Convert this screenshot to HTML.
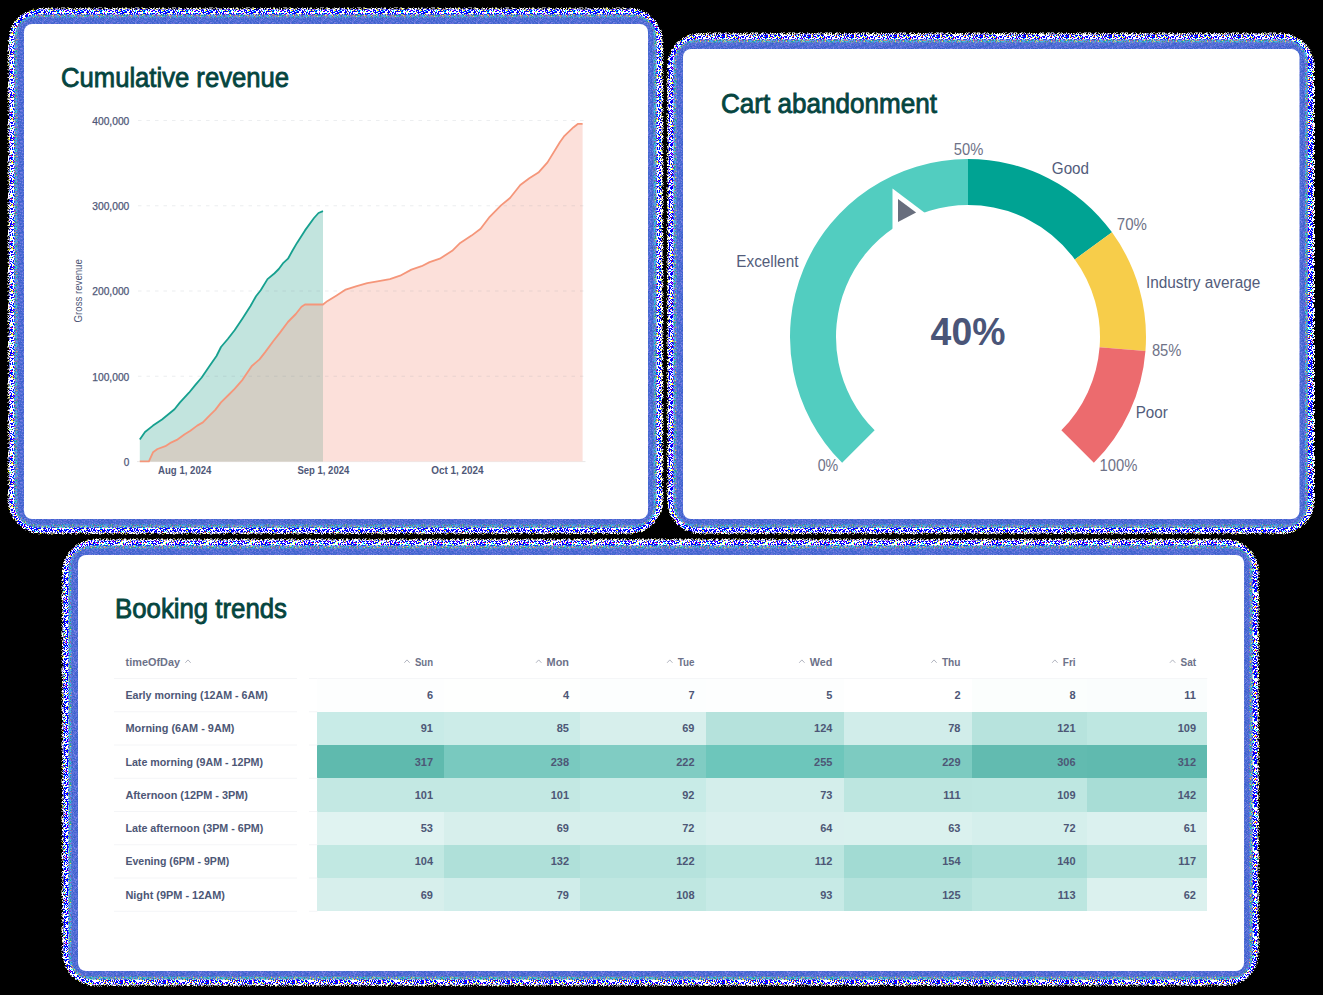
<!DOCTYPE html>
<html><head><meta charset="utf-8"><style>
html,body{margin:0;padding:0;background:#000;}
body{width:1323px;height:995px;overflow:hidden;}
svg{display:block;font-family:"Liberation Sans", sans-serif;}
</style></head><body>
<svg width="1323" height="995" viewBox="0 0 1323 995">
<defs><pattern id="pe" patternUnits="userSpaceOnUse" width="37" height="37"><path fill="#ffffff" d="M13 0h1v1h-1zM17 0h1v1h-1zM20 0h1v1h-1zM22 0h1v1h-1zM27 0h1v1h-1zM36 0h1v1h-1zM5 1h1v1h-1zM6 1h1v1h-1zM10 1h1v1h-1zM11 1h1v1h-1zM16 1h1v1h-1zM21 1h1v1h-1zM23 1h1v1h-1zM25 1h1v1h-1zM29 1h1v1h-1zM30 1h1v1h-1zM34 1h1v1h-1zM0 2h1v1h-1zM9 2h1v1h-1zM13 2h1v1h-1zM17 2h1v1h-1zM18 2h1v1h-1zM19 2h1v1h-1zM23 2h1v1h-1zM24 2h1v1h-1zM36 2h1v1h-1zM0 3h1v1h-1zM5 3h1v1h-1zM6 3h1v1h-1zM7 3h1v1h-1zM8 3h1v1h-1zM24 3h1v1h-1zM31 3h1v1h-1zM2 4h1v1h-1zM5 4h1v1h-1zM11 4h1v1h-1zM12 4h1v1h-1zM13 4h1v1h-1zM17 4h1v1h-1zM19 4h1v1h-1zM22 4h1v1h-1zM24 4h1v1h-1zM25 4h1v1h-1zM26 4h1v1h-1zM27 4h1v1h-1zM35 4h1v1h-1zM36 4h1v1h-1zM1 5h1v1h-1zM3 5h1v1h-1zM10 5h1v1h-1zM11 5h1v1h-1zM14 5h1v1h-1zM17 5h1v1h-1zM18 5h1v1h-1zM19 5h1v1h-1zM22 5h1v1h-1zM24 5h1v1h-1zM25 5h1v1h-1zM28 5h1v1h-1zM29 5h1v1h-1zM33 5h1v1h-1zM34 5h1v1h-1zM36 5h1v1h-1zM6 6h1v1h-1zM9 6h1v1h-1zM11 6h1v1h-1zM12 6h1v1h-1zM21 6h1v1h-1zM25 6h1v1h-1zM27 6h1v1h-1zM35 6h1v1h-1zM1 7h1v1h-1zM6 7h1v1h-1zM11 7h1v1h-1zM14 7h1v1h-1zM15 7h1v1h-1zM20 7h1v1h-1zM24 7h1v1h-1zM25 7h1v1h-1zM26 7h1v1h-1zM27 7h1v1h-1zM30 7h1v1h-1zM31 7h1v1h-1zM2 8h1v1h-1zM3 8h1v1h-1zM5 8h1v1h-1zM8 8h1v1h-1zM9 8h1v1h-1zM11 8h1v1h-1zM15 8h1v1h-1zM22 8h1v1h-1zM32 8h1v1h-1zM33 8h1v1h-1zM0 9h1v1h-1zM4 9h1v1h-1zM5 9h1v1h-1zM8 9h1v1h-1zM10 9h1v1h-1zM13 9h1v1h-1zM16 9h1v1h-1zM18 9h1v1h-1zM20 9h1v1h-1zM22 9h1v1h-1zM26 9h1v1h-1zM0 10h1v1h-1zM8 10h1v1h-1zM12 10h1v1h-1zM14 10h1v1h-1zM17 10h1v1h-1zM20 10h1v1h-1zM23 10h1v1h-1zM24 10h1v1h-1zM31 10h1v1h-1zM35 10h1v1h-1zM36 10h1v1h-1zM8 11h1v1h-1zM9 11h1v1h-1zM12 11h1v1h-1zM31 11h1v1h-1zM33 11h1v1h-1zM34 11h1v1h-1zM2 12h1v1h-1zM5 12h1v1h-1zM6 12h1v1h-1zM8 12h1v1h-1zM9 12h1v1h-1zM13 12h1v1h-1zM14 12h1v1h-1zM15 12h1v1h-1zM17 12h1v1h-1zM18 12h1v1h-1zM19 12h1v1h-1zM25 12h1v1h-1zM29 12h1v1h-1zM32 12h1v1h-1zM33 12h1v1h-1zM1 13h1v1h-1zM5 13h1v1h-1zM7 13h1v1h-1zM8 13h1v1h-1zM12 13h1v1h-1zM13 13h1v1h-1zM19 13h1v1h-1zM26 13h1v1h-1zM33 13h1v1h-1zM35 13h1v1h-1zM36 13h1v1h-1zM2 14h1v1h-1zM3 14h1v1h-1zM7 14h1v1h-1zM12 14h1v1h-1zM14 14h1v1h-1zM16 14h1v1h-1zM17 14h1v1h-1zM19 14h1v1h-1zM29 14h1v1h-1zM31 14h1v1h-1zM32 14h1v1h-1zM34 14h1v1h-1zM35 14h1v1h-1zM36 14h1v1h-1zM10 15h1v1h-1zM12 15h1v1h-1zM18 15h1v1h-1zM19 15h1v1h-1zM20 15h1v1h-1zM22 15h1v1h-1zM23 15h1v1h-1zM25 15h1v1h-1zM27 15h1v1h-1zM29 15h1v1h-1zM33 15h1v1h-1zM1 16h1v1h-1zM2 16h1v1h-1zM11 16h1v1h-1zM14 16h1v1h-1zM25 16h1v1h-1zM26 16h1v1h-1zM34 16h1v1h-1zM1 17h1v1h-1zM7 17h1v1h-1zM8 17h1v1h-1zM9 17h1v1h-1zM12 17h1v1h-1zM13 17h1v1h-1zM18 17h1v1h-1zM19 17h1v1h-1zM20 17h1v1h-1zM21 17h1v1h-1zM26 17h1v1h-1zM27 17h1v1h-1zM28 17h1v1h-1zM30 17h1v1h-1zM34 17h1v1h-1zM36 17h1v1h-1zM5 18h1v1h-1zM16 18h1v1h-1zM18 18h1v1h-1zM22 18h1v1h-1zM23 18h1v1h-1zM31 18h1v1h-1zM36 18h1v1h-1zM1 19h1v1h-1zM2 19h1v1h-1zM5 19h1v1h-1zM7 19h1v1h-1zM10 19h1v1h-1zM12 19h1v1h-1zM18 19h1v1h-1zM22 19h1v1h-1zM27 19h1v1h-1zM28 19h1v1h-1zM29 19h1v1h-1zM31 19h1v1h-1zM34 19h1v1h-1zM35 19h1v1h-1zM8 20h1v1h-1zM10 20h1v1h-1zM13 20h1v1h-1zM14 20h1v1h-1zM19 20h1v1h-1zM22 20h1v1h-1zM25 20h1v1h-1zM26 20h1v1h-1zM30 20h1v1h-1zM32 20h1v1h-1zM33 20h1v1h-1zM36 20h1v1h-1zM2 21h1v1h-1zM6 21h1v1h-1zM7 21h1v1h-1zM9 21h1v1h-1zM13 21h1v1h-1zM14 21h1v1h-1zM19 21h1v1h-1zM21 21h1v1h-1zM22 21h1v1h-1zM23 21h1v1h-1zM24 21h1v1h-1zM29 21h1v1h-1zM32 21h1v1h-1zM2 22h1v1h-1zM8 22h1v1h-1zM14 22h1v1h-1zM15 22h1v1h-1zM18 22h1v1h-1zM22 22h1v1h-1zM27 22h1v1h-1zM34 22h1v1h-1zM2 23h1v1h-1zM3 23h1v1h-1zM4 23h1v1h-1zM9 23h1v1h-1zM11 23h1v1h-1zM13 23h1v1h-1zM16 23h1v1h-1zM17 23h1v1h-1zM35 23h1v1h-1zM7 24h1v1h-1zM11 24h1v1h-1zM16 24h1v1h-1zM20 24h1v1h-1zM23 24h1v1h-1zM25 24h1v1h-1zM27 24h1v1h-1zM33 24h1v1h-1zM4 25h1v1h-1zM7 25h1v1h-1zM8 25h1v1h-1zM11 25h1v1h-1zM12 25h1v1h-1zM15 25h1v1h-1zM17 25h1v1h-1zM19 25h1v1h-1zM21 25h1v1h-1zM24 25h1v1h-1zM25 25h1v1h-1zM33 25h1v1h-1zM34 25h1v1h-1zM0 26h1v1h-1zM2 26h1v1h-1zM18 26h1v1h-1zM19 26h1v1h-1zM32 26h1v1h-1zM33 26h1v1h-1zM1 27h1v1h-1zM3 27h1v1h-1zM5 27h1v1h-1zM6 27h1v1h-1zM10 27h1v1h-1zM11 27h1v1h-1zM13 27h1v1h-1zM14 27h1v1h-1zM17 27h1v1h-1zM19 27h1v1h-1zM21 27h1v1h-1zM24 27h1v1h-1zM32 27h1v1h-1zM34 27h1v1h-1zM36 27h1v1h-1zM4 28h1v1h-1zM7 28h1v1h-1zM12 28h1v1h-1zM17 28h1v1h-1zM20 28h1v1h-1zM22 28h1v1h-1zM35 28h1v1h-1zM14 29h1v1h-1zM19 29h1v1h-1zM20 29h1v1h-1zM29 29h1v1h-1zM30 29h1v1h-1zM32 29h1v1h-1zM1 30h1v1h-1zM4 30h1v1h-1zM10 30h1v1h-1zM15 30h1v1h-1zM16 30h1v1h-1zM17 30h1v1h-1zM19 30h1v1h-1zM20 30h1v1h-1zM22 30h1v1h-1zM29 30h1v1h-1zM30 30h1v1h-1zM31 30h1v1h-1zM32 30h1v1h-1zM36 30h1v1h-1zM3 31h1v1h-1zM5 31h1v1h-1zM9 31h1v1h-1zM10 31h1v1h-1zM11 31h1v1h-1zM13 31h1v1h-1zM16 31h1v1h-1zM18 31h1v1h-1zM20 31h1v1h-1zM22 31h1v1h-1zM23 31h1v1h-1zM24 31h1v1h-1zM26 31h1v1h-1zM32 31h1v1h-1zM36 31h1v1h-1zM4 32h1v1h-1zM6 32h1v1h-1zM7 32h1v1h-1zM11 32h1v1h-1zM12 32h1v1h-1zM13 32h1v1h-1zM15 32h1v1h-1zM16 32h1v1h-1zM17 32h1v1h-1zM22 32h1v1h-1zM23 32h1v1h-1zM25 32h1v1h-1zM30 32h1v1h-1zM0 33h1v1h-1zM3 33h1v1h-1zM5 33h1v1h-1zM10 33h1v1h-1zM12 33h1v1h-1zM15 33h1v1h-1zM17 33h1v1h-1zM21 33h1v1h-1zM22 33h1v1h-1zM26 33h1v1h-1zM30 33h1v1h-1zM32 33h1v1h-1zM35 33h1v1h-1zM3 34h1v1h-1zM4 34h1v1h-1zM5 34h1v1h-1zM10 34h1v1h-1zM12 34h1v1h-1zM16 34h1v1h-1zM19 34h1v1h-1zM23 34h1v1h-1zM24 34h1v1h-1zM29 34h1v1h-1zM31 34h1v1h-1zM34 34h1v1h-1zM1 35h1v1h-1zM5 35h1v1h-1zM6 35h1v1h-1zM15 35h1v1h-1zM16 35h1v1h-1zM18 35h1v1h-1zM22 35h1v1h-1zM23 35h1v1h-1zM32 35h1v1h-1zM33 35h1v1h-1zM3 36h1v1h-1zM4 36h1v1h-1zM7 36h1v1h-1zM10 36h1v1h-1zM11 36h1v1h-1zM12 36h1v1h-1zM13 36h1v1h-1zM14 36h1v1h-1zM22 36h1v1h-1zM23 36h1v1h-1zM31 36h1v1h-1zM34 36h1v1h-1z"/><path fill="#ffff00" d="M13 1h1v1h-1zM36 1h1v1h-1zM32 3h1v1h-1zM23 4h1v1h-1zM2 5h1v1h-1zM0 6h1v1h-1zM14 8h1v1h-1zM31 8h1v1h-1zM21 10h1v1h-1zM0 12h1v1h-1zM3 15h1v1h-1zM15 16h1v1h-1zM30 19h1v1h-1zM1 22h1v1h-1zM3 22h1v1h-1zM31 22h1v1h-1zM36 22h1v1h-1zM17 24h1v1h-1zM4 27h1v1h-1zM8 27h1v1h-1zM9 28h1v1h-1zM14 28h1v1h-1zM25 28h1v1h-1zM21 35h1v1h-1z"/></pattern><pattern id="pf" patternUnits="userSpaceOnUse" width="41" height="41"><path fill="#ffffff" d="M2 0h1v1h-1zM4 0h1v1h-1zM6 0h1v1h-1zM8 0h1v1h-1zM9 0h1v1h-1zM10 0h1v1h-1zM11 0h1v1h-1zM12 0h1v1h-1zM13 0h1v1h-1zM14 0h1v1h-1zM15 0h1v1h-1zM18 0h1v1h-1zM20 0h1v1h-1zM28 0h1v1h-1zM29 0h1v1h-1zM30 0h1v1h-1zM34 0h1v1h-1zM36 0h1v1h-1zM38 0h1v1h-1zM1 1h1v1h-1zM2 1h1v1h-1zM3 1h1v1h-1zM4 1h1v1h-1zM5 1h1v1h-1zM9 1h1v1h-1zM10 1h1v1h-1zM11 1h1v1h-1zM12 1h1v1h-1zM14 1h1v1h-1zM16 1h1v1h-1zM18 1h1v1h-1zM22 1h1v1h-1zM25 1h1v1h-1zM29 1h1v1h-1zM30 1h1v1h-1zM31 1h1v1h-1zM32 1h1v1h-1zM35 1h1v1h-1zM37 1h1v1h-1zM39 1h1v1h-1zM0 2h1v1h-1zM1 2h1v1h-1zM5 2h1v1h-1zM10 2h1v1h-1zM14 2h1v1h-1zM17 2h1v1h-1zM18 2h1v1h-1zM19 2h1v1h-1zM21 2h1v1h-1zM22 2h1v1h-1zM24 2h1v1h-1zM25 2h1v1h-1zM26 2h1v1h-1zM27 2h1v1h-1zM29 2h1v1h-1zM33 2h1v1h-1zM35 2h1v1h-1zM37 2h1v1h-1zM38 2h1v1h-1zM39 2h1v1h-1zM40 2h1v1h-1zM1 3h1v1h-1zM2 3h1v1h-1zM3 3h1v1h-1zM4 3h1v1h-1zM5 3h1v1h-1zM7 3h1v1h-1zM10 3h1v1h-1zM11 3h1v1h-1zM13 3h1v1h-1zM14 3h1v1h-1zM18 3h1v1h-1zM19 3h1v1h-1zM22 3h1v1h-1zM23 3h1v1h-1zM25 3h1v1h-1zM27 3h1v1h-1zM28 3h1v1h-1zM29 3h1v1h-1zM31 3h1v1h-1zM32 3h1v1h-1zM33 3h1v1h-1zM34 3h1v1h-1zM36 3h1v1h-1zM37 3h1v1h-1zM38 3h1v1h-1zM40 3h1v1h-1zM1 4h1v1h-1zM2 4h1v1h-1zM6 4h1v1h-1zM7 4h1v1h-1zM8 4h1v1h-1zM10 4h1v1h-1zM12 4h1v1h-1zM18 4h1v1h-1zM19 4h1v1h-1zM20 4h1v1h-1zM22 4h1v1h-1zM23 4h1v1h-1zM24 4h1v1h-1zM25 4h1v1h-1zM26 4h1v1h-1zM27 4h1v1h-1zM29 4h1v1h-1zM30 4h1v1h-1zM31 4h1v1h-1zM35 4h1v1h-1zM37 4h1v1h-1zM39 4h1v1h-1zM40 4h1v1h-1zM0 5h1v1h-1zM3 5h1v1h-1zM5 5h1v1h-1zM6 5h1v1h-1zM9 5h1v1h-1zM12 5h1v1h-1zM13 5h1v1h-1zM15 5h1v1h-1zM18 5h1v1h-1zM21 5h1v1h-1zM22 5h1v1h-1zM24 5h1v1h-1zM29 5h1v1h-1zM33 5h1v1h-1zM36 5h1v1h-1zM38 5h1v1h-1zM0 6h1v1h-1zM1 6h1v1h-1zM2 6h1v1h-1zM3 6h1v1h-1zM5 6h1v1h-1zM6 6h1v1h-1zM7 6h1v1h-1zM11 6h1v1h-1zM14 6h1v1h-1zM15 6h1v1h-1zM18 6h1v1h-1zM20 6h1v1h-1zM21 6h1v1h-1zM24 6h1v1h-1zM25 6h1v1h-1zM26 6h1v1h-1zM28 6h1v1h-1zM30 6h1v1h-1zM31 6h1v1h-1zM32 6h1v1h-1zM34 6h1v1h-1zM36 6h1v1h-1zM37 6h1v1h-1zM0 7h1v1h-1zM1 7h1v1h-1zM3 7h1v1h-1zM5 7h1v1h-1zM6 7h1v1h-1zM8 7h1v1h-1zM11 7h1v1h-1zM12 7h1v1h-1zM14 7h1v1h-1zM18 7h1v1h-1zM19 7h1v1h-1zM20 7h1v1h-1zM23 7h1v1h-1zM24 7h1v1h-1zM25 7h1v1h-1zM26 7h1v1h-1zM28 7h1v1h-1zM29 7h1v1h-1zM30 7h1v1h-1zM34 7h1v1h-1zM35 7h1v1h-1zM37 7h1v1h-1zM40 7h1v1h-1zM0 8h1v1h-1zM1 8h1v1h-1zM4 8h1v1h-1zM5 8h1v1h-1zM6 8h1v1h-1zM8 8h1v1h-1zM9 8h1v1h-1zM11 8h1v1h-1zM14 8h1v1h-1zM15 8h1v1h-1zM16 8h1v1h-1zM20 8h1v1h-1zM22 8h1v1h-1zM23 8h1v1h-1zM24 8h1v1h-1zM30 8h1v1h-1zM31 8h1v1h-1zM33 8h1v1h-1zM35 8h1v1h-1zM39 8h1v1h-1zM40 8h1v1h-1zM0 9h1v1h-1zM2 9h1v1h-1zM3 9h1v1h-1zM5 9h1v1h-1zM6 9h1v1h-1zM14 9h1v1h-1zM15 9h1v1h-1zM16 9h1v1h-1zM20 9h1v1h-1zM25 9h1v1h-1zM26 9h1v1h-1zM28 9h1v1h-1zM30 9h1v1h-1zM40 9h1v1h-1zM1 10h1v1h-1zM2 10h1v1h-1zM3 10h1v1h-1zM7 10h1v1h-1zM9 10h1v1h-1zM11 10h1v1h-1zM12 10h1v1h-1zM17 10h1v1h-1zM21 10h1v1h-1zM23 10h1v1h-1zM29 10h1v1h-1zM32 10h1v1h-1zM35 10h1v1h-1zM36 10h1v1h-1zM37 10h1v1h-1zM39 10h1v1h-1zM40 10h1v1h-1zM0 11h1v1h-1zM4 11h1v1h-1zM5 11h1v1h-1zM7 11h1v1h-1zM9 11h1v1h-1zM12 11h1v1h-1zM15 11h1v1h-1zM22 11h1v1h-1zM24 11h1v1h-1zM36 11h1v1h-1zM40 11h1v1h-1zM3 12h1v1h-1zM4 12h1v1h-1zM6 12h1v1h-1zM9 12h1v1h-1zM12 12h1v1h-1zM13 12h1v1h-1zM17 12h1v1h-1zM18 12h1v1h-1zM21 12h1v1h-1zM22 12h1v1h-1zM23 12h1v1h-1zM24 12h1v1h-1zM27 12h1v1h-1zM28 12h1v1h-1zM29 12h1v1h-1zM31 12h1v1h-1zM33 12h1v1h-1zM34 12h1v1h-1zM35 12h1v1h-1zM38 12h1v1h-1zM39 12h1v1h-1zM1 13h1v1h-1zM5 13h1v1h-1zM7 13h1v1h-1zM8 13h1v1h-1zM9 13h1v1h-1zM11 13h1v1h-1zM12 13h1v1h-1zM13 13h1v1h-1zM15 13h1v1h-1zM17 13h1v1h-1zM19 13h1v1h-1zM21 13h1v1h-1zM22 13h1v1h-1zM23 13h1v1h-1zM24 13h1v1h-1zM31 13h1v1h-1zM34 13h1v1h-1zM37 13h1v1h-1zM38 13h1v1h-1zM39 13h1v1h-1zM40 13h1v1h-1zM1 14h1v1h-1zM2 14h1v1h-1zM5 14h1v1h-1zM6 14h1v1h-1zM9 14h1v1h-1zM11 14h1v1h-1zM12 14h1v1h-1zM14 14h1v1h-1zM15 14h1v1h-1zM17 14h1v1h-1zM20 14h1v1h-1zM21 14h1v1h-1zM22 14h1v1h-1zM25 14h1v1h-1zM29 14h1v1h-1zM31 14h1v1h-1zM33 14h1v1h-1zM34 14h1v1h-1zM36 14h1v1h-1zM40 14h1v1h-1zM0 15h1v1h-1zM2 15h1v1h-1zM4 15h1v1h-1zM5 15h1v1h-1zM9 15h1v1h-1zM11 15h1v1h-1zM12 15h1v1h-1zM16 15h1v1h-1zM18 15h1v1h-1zM20 15h1v1h-1zM22 15h1v1h-1zM24 15h1v1h-1zM25 15h1v1h-1zM29 15h1v1h-1zM31 15h1v1h-1zM33 15h1v1h-1zM35 15h1v1h-1zM36 15h1v1h-1zM0 16h1v1h-1zM4 16h1v1h-1zM5 16h1v1h-1zM6 16h1v1h-1zM7 16h1v1h-1zM8 16h1v1h-1zM10 16h1v1h-1zM11 16h1v1h-1zM12 16h1v1h-1zM13 16h1v1h-1zM14 16h1v1h-1zM18 16h1v1h-1zM20 16h1v1h-1zM23 16h1v1h-1zM25 16h1v1h-1zM26 16h1v1h-1zM30 16h1v1h-1zM33 16h1v1h-1zM34 16h1v1h-1zM37 16h1v1h-1zM38 16h1v1h-1zM1 17h1v1h-1zM5 17h1v1h-1zM6 17h1v1h-1zM7 17h1v1h-1zM8 17h1v1h-1zM9 17h1v1h-1zM10 17h1v1h-1zM11 17h1v1h-1zM12 17h1v1h-1zM13 17h1v1h-1zM14 17h1v1h-1zM15 17h1v1h-1zM18 17h1v1h-1zM20 17h1v1h-1zM21 17h1v1h-1zM22 17h1v1h-1zM24 17h1v1h-1zM25 17h1v1h-1zM26 17h1v1h-1zM27 17h1v1h-1zM28 17h1v1h-1zM30 17h1v1h-1zM31 17h1v1h-1zM32 17h1v1h-1zM35 17h1v1h-1zM38 17h1v1h-1zM39 17h1v1h-1zM40 17h1v1h-1zM0 18h1v1h-1zM4 18h1v1h-1zM5 18h1v1h-1zM9 18h1v1h-1zM10 18h1v1h-1zM13 18h1v1h-1zM17 18h1v1h-1zM18 18h1v1h-1zM20 18h1v1h-1zM21 18h1v1h-1zM23 18h1v1h-1zM24 18h1v1h-1zM25 18h1v1h-1zM28 18h1v1h-1zM31 18h1v1h-1zM32 18h1v1h-1zM35 18h1v1h-1zM36 18h1v1h-1zM37 18h1v1h-1zM38 18h1v1h-1zM40 18h1v1h-1zM0 19h1v1h-1zM1 19h1v1h-1zM4 19h1v1h-1zM5 19h1v1h-1zM9 19h1v1h-1zM10 19h1v1h-1zM13 19h1v1h-1zM14 19h1v1h-1zM17 19h1v1h-1zM20 19h1v1h-1zM21 19h1v1h-1zM24 19h1v1h-1zM25 19h1v1h-1zM28 19h1v1h-1zM30 19h1v1h-1zM31 19h1v1h-1zM33 19h1v1h-1zM36 19h1v1h-1zM37 19h1v1h-1zM38 19h1v1h-1zM40 19h1v1h-1zM0 20h1v1h-1zM2 20h1v1h-1zM3 20h1v1h-1zM5 20h1v1h-1zM6 20h1v1h-1zM9 20h1v1h-1zM13 20h1v1h-1zM14 20h1v1h-1zM15 20h1v1h-1zM16 20h1v1h-1zM19 20h1v1h-1zM21 20h1v1h-1zM27 20h1v1h-1zM29 20h1v1h-1zM33 20h1v1h-1zM35 20h1v1h-1zM36 20h1v1h-1zM40 20h1v1h-1zM2 21h1v1h-1zM4 21h1v1h-1zM6 21h1v1h-1zM10 21h1v1h-1zM13 21h1v1h-1zM14 21h1v1h-1zM15 21h1v1h-1zM22 21h1v1h-1zM24 21h1v1h-1zM26 21h1v1h-1zM29 21h1v1h-1zM36 21h1v1h-1zM39 21h1v1h-1zM1 22h1v1h-1zM3 22h1v1h-1zM4 22h1v1h-1zM5 22h1v1h-1zM8 22h1v1h-1zM13 22h1v1h-1zM15 22h1v1h-1zM17 22h1v1h-1zM20 22h1v1h-1zM23 22h1v1h-1zM25 22h1v1h-1zM27 22h1v1h-1zM28 22h1v1h-1zM30 22h1v1h-1zM32 22h1v1h-1zM33 22h1v1h-1zM38 22h1v1h-1zM40 22h1v1h-1zM1 23h1v1h-1zM3 23h1v1h-1zM9 23h1v1h-1zM11 23h1v1h-1zM13 23h1v1h-1zM15 23h1v1h-1zM19 23h1v1h-1zM20 23h1v1h-1zM22 23h1v1h-1zM23 23h1v1h-1zM24 23h1v1h-1zM26 23h1v1h-1zM28 23h1v1h-1zM32 23h1v1h-1zM33 23h1v1h-1zM1 24h1v1h-1zM3 24h1v1h-1zM4 24h1v1h-1zM5 24h1v1h-1zM7 24h1v1h-1zM8 24h1v1h-1zM11 24h1v1h-1zM12 24h1v1h-1zM15 24h1v1h-1zM16 24h1v1h-1zM20 24h1v1h-1zM23 24h1v1h-1zM25 24h1v1h-1zM27 24h1v1h-1zM28 24h1v1h-1zM32 24h1v1h-1zM34 24h1v1h-1zM35 24h1v1h-1zM36 24h1v1h-1zM37 24h1v1h-1zM38 24h1v1h-1zM40 24h1v1h-1zM0 25h1v1h-1zM1 25h1v1h-1zM4 25h1v1h-1zM6 25h1v1h-1zM7 25h1v1h-1zM9 25h1v1h-1zM11 25h1v1h-1zM12 25h1v1h-1zM16 25h1v1h-1zM20 25h1v1h-1zM21 25h1v1h-1zM24 25h1v1h-1zM25 25h1v1h-1zM31 25h1v1h-1zM33 25h1v1h-1zM34 25h1v1h-1zM35 25h1v1h-1zM37 25h1v1h-1zM38 25h1v1h-1zM39 25h1v1h-1zM40 25h1v1h-1zM0 26h1v1h-1zM8 26h1v1h-1zM9 26h1v1h-1zM12 26h1v1h-1zM18 26h1v1h-1zM20 26h1v1h-1zM22 26h1v1h-1zM24 26h1v1h-1zM25 26h1v1h-1zM27 26h1v1h-1zM30 26h1v1h-1zM31 26h1v1h-1zM33 26h1v1h-1zM38 26h1v1h-1zM39 26h1v1h-1zM1 27h1v1h-1zM2 27h1v1h-1zM5 27h1v1h-1zM6 27h1v1h-1zM7 27h1v1h-1zM10 27h1v1h-1zM13 27h1v1h-1zM15 27h1v1h-1zM18 27h1v1h-1zM19 27h1v1h-1zM20 27h1v1h-1zM21 27h1v1h-1zM24 27h1v1h-1zM25 27h1v1h-1zM28 27h1v1h-1zM30 27h1v1h-1zM32 27h1v1h-1zM36 27h1v1h-1zM38 27h1v1h-1zM40 27h1v1h-1zM0 28h1v1h-1zM1 28h1v1h-1zM2 28h1v1h-1zM4 28h1v1h-1zM5 28h1v1h-1zM6 28h1v1h-1zM8 28h1v1h-1zM9 28h1v1h-1zM10 28h1v1h-1zM14 28h1v1h-1zM15 28h1v1h-1zM20 28h1v1h-1zM23 28h1v1h-1zM26 28h1v1h-1zM27 28h1v1h-1zM29 28h1v1h-1zM30 28h1v1h-1zM32 28h1v1h-1zM34 28h1v1h-1zM35 28h1v1h-1zM0 29h1v1h-1zM1 29h1v1h-1zM3 29h1v1h-1zM5 29h1v1h-1zM6 29h1v1h-1zM7 29h1v1h-1zM8 29h1v1h-1zM13 29h1v1h-1zM15 29h1v1h-1zM18 29h1v1h-1zM20 29h1v1h-1zM21 29h1v1h-1zM23 29h1v1h-1zM25 29h1v1h-1zM26 29h1v1h-1zM28 29h1v1h-1zM30 29h1v1h-1zM31 29h1v1h-1zM32 29h1v1h-1zM33 29h1v1h-1zM34 29h1v1h-1zM37 29h1v1h-1zM39 29h1v1h-1zM2 30h1v1h-1zM3 30h1v1h-1zM5 30h1v1h-1zM10 30h1v1h-1zM13 30h1v1h-1zM14 30h1v1h-1zM16 30h1v1h-1zM17 30h1v1h-1zM18 30h1v1h-1zM20 30h1v1h-1zM22 30h1v1h-1zM24 30h1v1h-1zM25 30h1v1h-1zM26 30h1v1h-1zM29 30h1v1h-1zM31 30h1v1h-1zM33 30h1v1h-1zM35 30h1v1h-1zM36 30h1v1h-1zM39 30h1v1h-1zM1 31h1v1h-1zM2 31h1v1h-1zM3 31h1v1h-1zM7 31h1v1h-1zM9 31h1v1h-1zM11 31h1v1h-1zM14 31h1v1h-1zM15 31h1v1h-1zM16 31h1v1h-1zM17 31h1v1h-1zM22 31h1v1h-1zM23 31h1v1h-1zM24 31h1v1h-1zM27 31h1v1h-1zM28 31h1v1h-1zM30 31h1v1h-1zM32 31h1v1h-1zM34 31h1v1h-1zM35 31h1v1h-1zM40 31h1v1h-1zM3 32h1v1h-1zM4 32h1v1h-1zM8 32h1v1h-1zM11 32h1v1h-1zM15 32h1v1h-1zM18 32h1v1h-1zM20 32h1v1h-1zM21 32h1v1h-1zM25 32h1v1h-1zM26 32h1v1h-1zM27 32h1v1h-1zM28 32h1v1h-1zM29 32h1v1h-1zM30 32h1v1h-1zM33 32h1v1h-1zM34 32h1v1h-1zM36 32h1v1h-1zM38 32h1v1h-1zM39 32h1v1h-1zM40 32h1v1h-1zM0 33h1v1h-1zM2 33h1v1h-1zM3 33h1v1h-1zM8 33h1v1h-1zM15 33h1v1h-1zM16 33h1v1h-1zM17 33h1v1h-1zM18 33h1v1h-1zM24 33h1v1h-1zM25 33h1v1h-1zM29 33h1v1h-1zM32 33h1v1h-1zM35 33h1v1h-1zM36 33h1v1h-1zM37 33h1v1h-1zM39 33h1v1h-1zM5 34h1v1h-1zM9 34h1v1h-1zM10 34h1v1h-1zM11 34h1v1h-1zM13 34h1v1h-1zM15 34h1v1h-1zM17 34h1v1h-1zM18 34h1v1h-1zM22 34h1v1h-1zM23 34h1v1h-1zM24 34h1v1h-1zM28 34h1v1h-1zM29 34h1v1h-1zM30 34h1v1h-1zM31 34h1v1h-1zM34 34h1v1h-1zM36 34h1v1h-1zM38 34h1v1h-1zM39 34h1v1h-1zM0 35h1v1h-1zM3 35h1v1h-1zM6 35h1v1h-1zM7 35h1v1h-1zM12 35h1v1h-1zM14 35h1v1h-1zM15 35h1v1h-1zM16 35h1v1h-1zM17 35h1v1h-1zM18 35h1v1h-1zM19 35h1v1h-1zM20 35h1v1h-1zM22 35h1v1h-1zM24 35h1v1h-1zM25 35h1v1h-1zM26 35h1v1h-1zM28 35h1v1h-1zM30 35h1v1h-1zM32 35h1v1h-1zM36 35h1v1h-1zM37 35h1v1h-1zM38 35h1v1h-1zM1 36h1v1h-1zM6 36h1v1h-1zM7 36h1v1h-1zM13 36h1v1h-1zM17 36h1v1h-1zM20 36h1v1h-1zM21 36h1v1h-1zM23 36h1v1h-1zM24 36h1v1h-1zM28 36h1v1h-1zM30 36h1v1h-1zM31 36h1v1h-1zM32 36h1v1h-1zM34 36h1v1h-1zM35 36h1v1h-1zM38 36h1v1h-1zM1 37h1v1h-1zM4 37h1v1h-1zM5 37h1v1h-1zM9 37h1v1h-1zM11 37h1v1h-1zM12 37h1v1h-1zM14 37h1v1h-1zM15 37h1v1h-1zM18 37h1v1h-1zM21 37h1v1h-1zM22 37h1v1h-1zM23 37h1v1h-1zM24 37h1v1h-1zM29 37h1v1h-1zM30 37h1v1h-1zM32 37h1v1h-1zM0 38h1v1h-1zM3 38h1v1h-1zM7 38h1v1h-1zM12 38h1v1h-1zM13 38h1v1h-1zM15 38h1v1h-1zM17 38h1v1h-1zM22 38h1v1h-1zM24 38h1v1h-1zM26 38h1v1h-1zM28 38h1v1h-1zM30 38h1v1h-1zM31 38h1v1h-1zM34 38h1v1h-1zM40 38h1v1h-1zM5 39h1v1h-1zM6 39h1v1h-1zM7 39h1v1h-1zM10 39h1v1h-1zM11 39h1v1h-1zM12 39h1v1h-1zM13 39h1v1h-1zM14 39h1v1h-1zM16 39h1v1h-1zM17 39h1v1h-1zM20 39h1v1h-1zM24 39h1v1h-1zM28 39h1v1h-1zM31 39h1v1h-1zM36 39h1v1h-1zM37 39h1v1h-1zM40 39h1v1h-1zM1 40h1v1h-1zM2 40h1v1h-1zM6 40h1v1h-1zM7 40h1v1h-1zM8 40h1v1h-1zM9 40h1v1h-1zM12 40h1v1h-1zM13 40h1v1h-1zM15 40h1v1h-1zM17 40h1v1h-1zM18 40h1v1h-1zM19 40h1v1h-1zM21 40h1v1h-1zM22 40h1v1h-1zM24 40h1v1h-1zM27 40h1v1h-1zM28 40h1v1h-1zM29 40h1v1h-1zM30 40h1v1h-1zM34 40h1v1h-1zM35 40h1v1h-1zM36 40h1v1h-1zM37 40h1v1h-1zM40 40h1v1h-1z"/><path fill="#0000ff" d="M5 0h1v1h-1zM16 0h1v1h-1zM35 0h1v1h-1zM34 1h1v1h-1zM38 1h1v1h-1zM4 2h1v1h-1zM13 2h1v1h-1zM16 2h1v1h-1zM20 2h1v1h-1zM28 2h1v1h-1zM15 3h1v1h-1zM20 3h1v1h-1zM11 4h1v1h-1zM17 4h1v1h-1zM21 4h1v1h-1zM36 4h1v1h-1zM7 5h1v1h-1zM14 5h1v1h-1zM19 5h1v1h-1zM8 6h1v1h-1zM35 6h1v1h-1zM9 7h1v1h-1zM13 7h1v1h-1zM21 7h1v1h-1zM31 7h1v1h-1zM38 7h1v1h-1zM12 8h1v1h-1zM13 8h1v1h-1zM4 9h1v1h-1zM17 9h1v1h-1zM18 9h1v1h-1zM23 9h1v1h-1zM27 9h1v1h-1zM38 9h1v1h-1zM39 9h1v1h-1zM8 10h1v1h-1zM26 10h1v1h-1zM28 10h1v1h-1zM30 10h1v1h-1zM34 10h1v1h-1zM17 11h1v1h-1zM21 11h1v1h-1zM31 11h1v1h-1zM34 11h1v1h-1zM7 12h1v1h-1zM37 12h1v1h-1zM20 13h1v1h-1zM18 14h1v1h-1zM24 14h1v1h-1zM32 14h1v1h-1zM37 14h1v1h-1zM38 14h1v1h-1zM10 15h1v1h-1zM13 15h1v1h-1zM14 15h1v1h-1zM21 15h1v1h-1zM26 15h1v1h-1zM32 15h1v1h-1zM0 17h1v1h-1zM16 17h1v1h-1zM7 18h1v1h-1zM11 18h1v1h-1zM14 18h1v1h-1zM19 18h1v1h-1zM30 18h1v1h-1zM12 19h1v1h-1zM16 19h1v1h-1zM26 20h1v1h-1zM32 20h1v1h-1zM34 20h1v1h-1zM39 20h1v1h-1zM1 21h1v1h-1zM7 21h1v1h-1zM10 22h1v1h-1zM12 22h1v1h-1zM19 22h1v1h-1zM12 23h1v1h-1zM14 23h1v1h-1zM31 23h1v1h-1zM22 24h1v1h-1zM31 24h1v1h-1zM33 24h1v1h-1zM2 25h1v1h-1zM26 25h1v1h-1zM29 25h1v1h-1zM29 26h1v1h-1zM32 26h1v1h-1zM3 27h1v1h-1zM22 27h1v1h-1zM23 27h1v1h-1zM11 28h1v1h-1zM22 28h1v1h-1zM33 28h1v1h-1zM38 28h1v1h-1zM12 29h1v1h-1zM15 30h1v1h-1zM19 30h1v1h-1zM30 30h1v1h-1zM38 30h1v1h-1zM18 31h1v1h-1zM39 31h1v1h-1zM22 32h1v1h-1zM35 32h1v1h-1zM26 33h1v1h-1zM28 33h1v1h-1zM40 33h1v1h-1zM25 34h1v1h-1zM2 35h1v1h-1zM33 35h1v1h-1zM9 36h1v1h-1zM14 36h1v1h-1zM26 36h1v1h-1zM36 36h1v1h-1zM37 36h1v1h-1zM19 37h1v1h-1zM25 37h1v1h-1zM27 37h1v1h-1zM39 37h1v1h-1zM6 38h1v1h-1zM8 38h1v1h-1zM35 38h1v1h-1zM39 38h1v1h-1zM29 39h1v1h-1zM38 39h1v1h-1zM26 40h1v1h-1zM33 40h1v1h-1z"/><path fill="#ffff00" d="M0 0h1v1h-1zM22 0h1v1h-1zM7 1h1v1h-1zM8 3h1v1h-1zM17 3h1v1h-1zM0 4h1v1h-1zM20 5h1v1h-1zM31 5h1v1h-1zM10 6h1v1h-1zM40 6h1v1h-1zM4 7h1v1h-1zM27 8h1v1h-1zM38 8h1v1h-1zM7 9h1v1h-1zM32 9h1v1h-1zM33 9h1v1h-1zM4 10h1v1h-1zM19 11h1v1h-1zM29 11h1v1h-1zM30 11h1v1h-1zM38 11h1v1h-1zM26 13h1v1h-1zM30 14h1v1h-1zM8 15h1v1h-1zM28 16h1v1h-1zM23 17h1v1h-1zM22 18h1v1h-1zM39 18h1v1h-1zM2 19h1v1h-1zM8 19h1v1h-1zM15 19h1v1h-1zM27 19h1v1h-1zM4 20h1v1h-1zM5 21h1v1h-1zM20 21h1v1h-1zM10 25h1v1h-1zM17 26h1v1h-1zM21 26h1v1h-1zM33 27h1v1h-1zM21 28h1v1h-1zM24 28h1v1h-1zM25 28h1v1h-1zM36 29h1v1h-1zM1 30h1v1h-1zM12 32h1v1h-1zM23 32h1v1h-1zM7 33h1v1h-1zM33 33h1v1h-1zM14 34h1v1h-1zM4 35h1v1h-1zM29 35h1v1h-1zM40 35h1v1h-1zM19 36h1v1h-1zM7 37h1v1h-1zM33 37h1v1h-1zM37 37h1v1h-1zM9 38h1v1h-1zM20 38h1v1h-1zM38 38h1v1h-1zM15 39h1v1h-1zM21 39h1v1h-1zM26 39h1v1h-1zM4 40h1v1h-1zM10 40h1v1h-1z"/></pattern><pattern id="pn" patternUnits="userSpaceOnUse" width="43" height="43"><path fill="#ffffff" d="M5 0h1v1h-1zM6 0h1v1h-1zM9 0h1v1h-1zM10 0h1v1h-1zM11 0h1v1h-1zM12 0h1v1h-1zM13 0h1v1h-1zM17 0h1v1h-1zM18 0h1v1h-1zM25 0h1v1h-1zM27 0h1v1h-1zM29 0h1v1h-1zM30 0h1v1h-1zM31 0h1v1h-1zM32 0h1v1h-1zM33 0h1v1h-1zM34 0h1v1h-1zM36 0h1v1h-1zM37 0h1v1h-1zM39 0h1v1h-1zM40 0h1v1h-1zM41 0h1v1h-1zM0 1h1v1h-1zM3 1h1v1h-1zM4 1h1v1h-1zM7 1h1v1h-1zM8 1h1v1h-1zM10 1h1v1h-1zM12 1h1v1h-1zM13 1h1v1h-1zM16 1h1v1h-1zM17 1h1v1h-1zM20 1h1v1h-1zM23 1h1v1h-1zM25 1h1v1h-1zM26 1h1v1h-1zM28 1h1v1h-1zM33 1h1v1h-1zM38 1h1v1h-1zM41 1h1v1h-1zM4 2h1v1h-1zM5 2h1v1h-1zM10 2h1v1h-1zM11 2h1v1h-1zM12 2h1v1h-1zM14 2h1v1h-1zM15 2h1v1h-1zM18 2h1v1h-1zM22 2h1v1h-1zM24 2h1v1h-1zM29 2h1v1h-1zM30 2h1v1h-1zM32 2h1v1h-1zM34 2h1v1h-1zM35 2h1v1h-1zM36 2h1v1h-1zM37 2h1v1h-1zM41 2h1v1h-1zM42 2h1v1h-1zM0 3h1v1h-1zM4 3h1v1h-1zM5 3h1v1h-1zM6 3h1v1h-1zM8 3h1v1h-1zM12 3h1v1h-1zM14 3h1v1h-1zM17 3h1v1h-1zM18 3h1v1h-1zM20 3h1v1h-1zM22 3h1v1h-1zM23 3h1v1h-1zM25 3h1v1h-1zM33 3h1v1h-1zM34 3h1v1h-1zM36 3h1v1h-1zM38 3h1v1h-1zM40 3h1v1h-1zM4 4h1v1h-1zM5 4h1v1h-1zM7 4h1v1h-1zM9 4h1v1h-1zM10 4h1v1h-1zM11 4h1v1h-1zM14 4h1v1h-1zM16 4h1v1h-1zM19 4h1v1h-1zM20 4h1v1h-1zM22 4h1v1h-1zM24 4h1v1h-1zM25 4h1v1h-1zM27 4h1v1h-1zM29 4h1v1h-1zM31 4h1v1h-1zM33 4h1v1h-1zM36 4h1v1h-1zM37 4h1v1h-1zM38 4h1v1h-1zM40 4h1v1h-1zM42 4h1v1h-1zM2 5h1v1h-1zM4 5h1v1h-1zM6 5h1v1h-1zM11 5h1v1h-1zM12 5h1v1h-1zM16 5h1v1h-1zM21 5h1v1h-1zM22 5h1v1h-1zM23 5h1v1h-1zM26 5h1v1h-1zM28 5h1v1h-1zM31 5h1v1h-1zM34 5h1v1h-1zM35 5h1v1h-1zM37 5h1v1h-1zM39 5h1v1h-1zM41 5h1v1h-1zM42 5h1v1h-1zM1 6h1v1h-1zM6 6h1v1h-1zM8 6h1v1h-1zM10 6h1v1h-1zM12 6h1v1h-1zM13 6h1v1h-1zM15 6h1v1h-1zM16 6h1v1h-1zM18 6h1v1h-1zM22 6h1v1h-1zM23 6h1v1h-1zM25 6h1v1h-1zM28 6h1v1h-1zM30 6h1v1h-1zM33 6h1v1h-1zM34 6h1v1h-1zM35 6h1v1h-1zM36 6h1v1h-1zM37 6h1v1h-1zM38 6h1v1h-1zM42 6h1v1h-1zM5 7h1v1h-1zM7 7h1v1h-1zM8 7h1v1h-1zM9 7h1v1h-1zM10 7h1v1h-1zM12 7h1v1h-1zM14 7h1v1h-1zM16 7h1v1h-1zM20 7h1v1h-1zM21 7h1v1h-1zM24 7h1v1h-1zM28 7h1v1h-1zM32 7h1v1h-1zM34 7h1v1h-1zM35 7h1v1h-1zM36 7h1v1h-1zM37 7h1v1h-1zM40 7h1v1h-1zM41 7h1v1h-1zM42 7h1v1h-1zM0 8h1v1h-1zM1 8h1v1h-1zM2 8h1v1h-1zM12 8h1v1h-1zM16 8h1v1h-1zM18 8h1v1h-1zM19 8h1v1h-1zM23 8h1v1h-1zM31 8h1v1h-1zM35 8h1v1h-1zM39 8h1v1h-1zM42 8h1v1h-1zM1 9h1v1h-1zM2 9h1v1h-1zM4 9h1v1h-1zM9 9h1v1h-1zM15 9h1v1h-1zM16 9h1v1h-1zM19 9h1v1h-1zM23 9h1v1h-1zM25 9h1v1h-1zM26 9h1v1h-1zM28 9h1v1h-1zM31 9h1v1h-1zM32 9h1v1h-1zM33 9h1v1h-1zM36 9h1v1h-1zM37 9h1v1h-1zM38 9h1v1h-1zM0 10h1v1h-1zM2 10h1v1h-1zM4 10h1v1h-1zM5 10h1v1h-1zM7 10h1v1h-1zM8 10h1v1h-1zM12 10h1v1h-1zM17 10h1v1h-1zM19 10h1v1h-1zM21 10h1v1h-1zM22 10h1v1h-1zM26 10h1v1h-1zM27 10h1v1h-1zM28 10h1v1h-1zM32 10h1v1h-1zM36 10h1v1h-1zM40 10h1v1h-1zM0 11h1v1h-1zM5 11h1v1h-1zM7 11h1v1h-1zM16 11h1v1h-1zM17 11h1v1h-1zM18 11h1v1h-1zM21 11h1v1h-1zM24 11h1v1h-1zM25 11h1v1h-1zM28 11h1v1h-1zM30 11h1v1h-1zM32 11h1v1h-1zM37 11h1v1h-1zM41 11h1v1h-1zM42 11h1v1h-1zM3 12h1v1h-1zM4 12h1v1h-1zM7 12h1v1h-1zM9 12h1v1h-1zM10 12h1v1h-1zM11 12h1v1h-1zM12 12h1v1h-1zM13 12h1v1h-1zM16 12h1v1h-1zM17 12h1v1h-1zM19 12h1v1h-1zM20 12h1v1h-1zM21 12h1v1h-1zM22 12h1v1h-1zM23 12h1v1h-1zM24 12h1v1h-1zM25 12h1v1h-1zM27 12h1v1h-1zM28 12h1v1h-1zM34 12h1v1h-1zM35 12h1v1h-1zM41 12h1v1h-1zM42 12h1v1h-1zM2 13h1v1h-1zM4 13h1v1h-1zM6 13h1v1h-1zM9 13h1v1h-1zM11 13h1v1h-1zM12 13h1v1h-1zM13 13h1v1h-1zM17 13h1v1h-1zM19 13h1v1h-1zM20 13h1v1h-1zM26 13h1v1h-1zM29 13h1v1h-1zM30 13h1v1h-1zM32 13h1v1h-1zM33 13h1v1h-1zM39 13h1v1h-1zM40 13h1v1h-1zM41 13h1v1h-1zM42 13h1v1h-1zM4 14h1v1h-1zM6 14h1v1h-1zM10 14h1v1h-1zM20 14h1v1h-1zM24 14h1v1h-1zM25 14h1v1h-1zM28 14h1v1h-1zM29 14h1v1h-1zM30 14h1v1h-1zM31 14h1v1h-1zM35 14h1v1h-1zM37 14h1v1h-1zM39 14h1v1h-1zM40 14h1v1h-1zM42 14h1v1h-1zM0 15h1v1h-1zM1 15h1v1h-1zM5 15h1v1h-1zM7 15h1v1h-1zM8 15h1v1h-1zM10 15h1v1h-1zM11 15h1v1h-1zM13 15h1v1h-1zM15 15h1v1h-1zM19 15h1v1h-1zM21 15h1v1h-1zM23 15h1v1h-1zM24 15h1v1h-1zM28 15h1v1h-1zM31 15h1v1h-1zM36 15h1v1h-1zM38 15h1v1h-1zM40 15h1v1h-1zM2 16h1v1h-1zM3 16h1v1h-1zM4 16h1v1h-1zM5 16h1v1h-1zM6 16h1v1h-1zM9 16h1v1h-1zM10 16h1v1h-1zM12 16h1v1h-1zM13 16h1v1h-1zM22 16h1v1h-1zM23 16h1v1h-1zM24 16h1v1h-1zM28 16h1v1h-1zM29 16h1v1h-1zM30 16h1v1h-1zM33 16h1v1h-1zM34 16h1v1h-1zM35 16h1v1h-1zM36 16h1v1h-1zM40 16h1v1h-1zM41 16h1v1h-1zM42 16h1v1h-1zM7 17h1v1h-1zM8 17h1v1h-1zM11 17h1v1h-1zM12 17h1v1h-1zM13 17h1v1h-1zM18 17h1v1h-1zM20 17h1v1h-1zM23 17h1v1h-1zM24 17h1v1h-1zM25 17h1v1h-1zM27 17h1v1h-1zM28 17h1v1h-1zM32 17h1v1h-1zM35 17h1v1h-1zM36 17h1v1h-1zM41 17h1v1h-1zM42 17h1v1h-1zM1 18h1v1h-1zM2 18h1v1h-1zM4 18h1v1h-1zM5 18h1v1h-1zM10 18h1v1h-1zM11 18h1v1h-1zM13 18h1v1h-1zM15 18h1v1h-1zM18 18h1v1h-1zM22 18h1v1h-1zM25 18h1v1h-1zM26 18h1v1h-1zM28 18h1v1h-1zM29 18h1v1h-1zM34 18h1v1h-1zM35 18h1v1h-1zM38 18h1v1h-1zM39 18h1v1h-1zM40 18h1v1h-1zM42 18h1v1h-1zM4 19h1v1h-1zM5 19h1v1h-1zM6 19h1v1h-1zM8 19h1v1h-1zM11 19h1v1h-1zM13 19h1v1h-1zM15 19h1v1h-1zM19 19h1v1h-1zM27 19h1v1h-1zM28 19h1v1h-1zM30 19h1v1h-1zM31 19h1v1h-1zM32 19h1v1h-1zM34 19h1v1h-1zM38 19h1v1h-1zM40 19h1v1h-1zM41 19h1v1h-1zM42 19h1v1h-1zM2 20h1v1h-1zM3 20h1v1h-1zM7 20h1v1h-1zM8 20h1v1h-1zM9 20h1v1h-1zM11 20h1v1h-1zM15 20h1v1h-1zM16 20h1v1h-1zM17 20h1v1h-1zM22 20h1v1h-1zM31 20h1v1h-1zM34 20h1v1h-1zM36 20h1v1h-1zM40 20h1v1h-1zM41 20h1v1h-1zM42 20h1v1h-1zM0 21h1v1h-1zM1 21h1v1h-1zM10 21h1v1h-1zM11 21h1v1h-1zM12 21h1v1h-1zM13 21h1v1h-1zM14 21h1v1h-1zM17 21h1v1h-1zM23 21h1v1h-1zM25 21h1v1h-1zM27 21h1v1h-1zM30 21h1v1h-1zM35 21h1v1h-1zM39 21h1v1h-1zM40 21h1v1h-1zM41 21h1v1h-1zM0 22h1v1h-1zM1 22h1v1h-1zM4 22h1v1h-1zM5 22h1v1h-1zM10 22h1v1h-1zM11 22h1v1h-1zM12 22h1v1h-1zM14 22h1v1h-1zM15 22h1v1h-1zM22 22h1v1h-1zM23 22h1v1h-1zM24 22h1v1h-1zM25 22h1v1h-1zM26 22h1v1h-1zM27 22h1v1h-1zM28 22h1v1h-1zM32 22h1v1h-1zM34 22h1v1h-1zM35 22h1v1h-1zM36 22h1v1h-1zM37 22h1v1h-1zM41 22h1v1h-1zM0 23h1v1h-1zM2 23h1v1h-1zM4 23h1v1h-1zM8 23h1v1h-1zM9 23h1v1h-1zM10 23h1v1h-1zM12 23h1v1h-1zM16 23h1v1h-1zM17 23h1v1h-1zM18 23h1v1h-1zM20 23h1v1h-1zM23 23h1v1h-1zM24 23h1v1h-1zM25 23h1v1h-1zM27 23h1v1h-1zM29 23h1v1h-1zM31 23h1v1h-1zM33 23h1v1h-1zM34 23h1v1h-1zM36 23h1v1h-1zM37 23h1v1h-1zM39 23h1v1h-1zM40 23h1v1h-1zM42 23h1v1h-1zM0 24h1v1h-1zM1 24h1v1h-1zM2 24h1v1h-1zM3 24h1v1h-1zM7 24h1v1h-1zM10 24h1v1h-1zM11 24h1v1h-1zM12 24h1v1h-1zM13 24h1v1h-1zM16 24h1v1h-1zM17 24h1v1h-1zM19 24h1v1h-1zM20 24h1v1h-1zM22 24h1v1h-1zM23 24h1v1h-1zM24 24h1v1h-1zM28 24h1v1h-1zM29 24h1v1h-1zM35 24h1v1h-1zM38 24h1v1h-1zM39 24h1v1h-1zM41 24h1v1h-1zM42 24h1v1h-1zM0 25h1v1h-1zM4 25h1v1h-1zM6 25h1v1h-1zM7 25h1v1h-1zM9 25h1v1h-1zM10 25h1v1h-1zM13 25h1v1h-1zM14 25h1v1h-1zM17 25h1v1h-1zM21 25h1v1h-1zM25 25h1v1h-1zM30 25h1v1h-1zM32 25h1v1h-1zM33 25h1v1h-1zM36 25h1v1h-1zM37 25h1v1h-1zM38 25h1v1h-1zM39 25h1v1h-1zM40 25h1v1h-1zM41 25h1v1h-1zM2 26h1v1h-1zM4 26h1v1h-1zM6 26h1v1h-1zM13 26h1v1h-1zM15 26h1v1h-1zM18 26h1v1h-1zM20 26h1v1h-1zM21 26h1v1h-1zM22 26h1v1h-1zM24 26h1v1h-1zM25 26h1v1h-1zM26 26h1v1h-1zM28 26h1v1h-1zM30 26h1v1h-1zM34 26h1v1h-1zM35 26h1v1h-1zM36 26h1v1h-1zM38 26h1v1h-1zM39 26h1v1h-1zM0 27h1v1h-1zM1 27h1v1h-1zM2 27h1v1h-1zM5 27h1v1h-1zM10 27h1v1h-1zM12 27h1v1h-1zM13 27h1v1h-1zM15 27h1v1h-1zM16 27h1v1h-1zM17 27h1v1h-1zM18 27h1v1h-1zM21 27h1v1h-1zM27 27h1v1h-1zM28 27h1v1h-1zM34 27h1v1h-1zM35 27h1v1h-1zM38 27h1v1h-1zM40 27h1v1h-1zM41 27h1v1h-1zM42 27h1v1h-1zM2 28h1v1h-1zM8 28h1v1h-1zM13 28h1v1h-1zM16 28h1v1h-1zM17 28h1v1h-1zM19 28h1v1h-1zM20 28h1v1h-1zM23 28h1v1h-1zM25 28h1v1h-1zM28 28h1v1h-1zM29 28h1v1h-1zM30 28h1v1h-1zM31 28h1v1h-1zM32 28h1v1h-1zM33 28h1v1h-1zM34 28h1v1h-1zM35 28h1v1h-1zM36 28h1v1h-1zM40 28h1v1h-1zM42 28h1v1h-1zM0 29h1v1h-1zM2 29h1v1h-1zM4 29h1v1h-1zM5 29h1v1h-1zM13 29h1v1h-1zM15 29h1v1h-1zM16 29h1v1h-1zM22 29h1v1h-1zM23 29h1v1h-1zM26 29h1v1h-1zM27 29h1v1h-1zM28 29h1v1h-1zM29 29h1v1h-1zM31 29h1v1h-1zM32 29h1v1h-1zM33 29h1v1h-1zM36 29h1v1h-1zM37 29h1v1h-1zM40 29h1v1h-1zM41 29h1v1h-1zM0 30h1v1h-1zM1 30h1v1h-1zM3 30h1v1h-1zM4 30h1v1h-1zM5 30h1v1h-1zM6 30h1v1h-1zM7 30h1v1h-1zM10 30h1v1h-1zM13 30h1v1h-1zM15 30h1v1h-1zM18 30h1v1h-1zM19 30h1v1h-1zM21 30h1v1h-1zM23 30h1v1h-1zM26 30h1v1h-1zM28 30h1v1h-1zM32 30h1v1h-1zM33 30h1v1h-1zM36 30h1v1h-1zM37 30h1v1h-1zM39 30h1v1h-1zM41 30h1v1h-1zM42 30h1v1h-1zM0 31h1v1h-1zM3 31h1v1h-1zM5 31h1v1h-1zM6 31h1v1h-1zM11 31h1v1h-1zM12 31h1v1h-1zM14 31h1v1h-1zM15 31h1v1h-1zM16 31h1v1h-1zM22 31h1v1h-1zM23 31h1v1h-1zM25 31h1v1h-1zM27 31h1v1h-1zM28 31h1v1h-1zM30 31h1v1h-1zM34 31h1v1h-1zM35 31h1v1h-1zM38 31h1v1h-1zM42 31h1v1h-1zM0 32h1v1h-1zM1 32h1v1h-1zM3 32h1v1h-1zM5 32h1v1h-1zM6 32h1v1h-1zM10 32h1v1h-1zM15 32h1v1h-1zM18 32h1v1h-1zM19 32h1v1h-1zM22 32h1v1h-1zM25 32h1v1h-1zM26 32h1v1h-1zM29 32h1v1h-1zM30 32h1v1h-1zM31 32h1v1h-1zM32 32h1v1h-1zM34 32h1v1h-1zM35 32h1v1h-1zM37 32h1v1h-1zM38 32h1v1h-1zM39 32h1v1h-1zM40 32h1v1h-1zM0 33h1v1h-1zM1 33h1v1h-1zM3 33h1v1h-1zM4 33h1v1h-1zM5 33h1v1h-1zM6 33h1v1h-1zM8 33h1v1h-1zM9 33h1v1h-1zM16 33h1v1h-1zM20 33h1v1h-1zM21 33h1v1h-1zM23 33h1v1h-1zM25 33h1v1h-1zM26 33h1v1h-1zM27 33h1v1h-1zM30 33h1v1h-1zM32 33h1v1h-1zM33 33h1v1h-1zM35 33h1v1h-1zM36 33h1v1h-1zM37 33h1v1h-1zM41 33h1v1h-1zM3 34h1v1h-1zM6 34h1v1h-1zM7 34h1v1h-1zM8 34h1v1h-1zM9 34h1v1h-1zM10 34h1v1h-1zM11 34h1v1h-1zM12 34h1v1h-1zM14 34h1v1h-1zM18 34h1v1h-1zM25 34h1v1h-1zM27 34h1v1h-1zM29 34h1v1h-1zM31 34h1v1h-1zM33 34h1v1h-1zM37 34h1v1h-1zM42 34h1v1h-1zM3 35h1v1h-1zM7 35h1v1h-1zM8 35h1v1h-1zM9 35h1v1h-1zM10 35h1v1h-1zM11 35h1v1h-1zM12 35h1v1h-1zM14 35h1v1h-1zM15 35h1v1h-1zM16 35h1v1h-1zM18 35h1v1h-1zM20 35h1v1h-1zM23 35h1v1h-1zM29 35h1v1h-1zM32 35h1v1h-1zM37 35h1v1h-1zM40 35h1v1h-1zM41 35h1v1h-1zM42 35h1v1h-1zM2 36h1v1h-1zM4 36h1v1h-1zM6 36h1v1h-1zM8 36h1v1h-1zM9 36h1v1h-1zM13 36h1v1h-1zM14 36h1v1h-1zM17 36h1v1h-1zM20 36h1v1h-1zM21 36h1v1h-1zM24 36h1v1h-1zM25 36h1v1h-1zM26 36h1v1h-1zM28 36h1v1h-1zM32 36h1v1h-1zM37 36h1v1h-1zM42 36h1v1h-1zM1 37h1v1h-1zM2 37h1v1h-1zM10 37h1v1h-1zM13 37h1v1h-1zM15 37h1v1h-1zM16 37h1v1h-1zM17 37h1v1h-1zM20 37h1v1h-1zM21 37h1v1h-1zM22 37h1v1h-1zM25 37h1v1h-1zM26 37h1v1h-1zM28 37h1v1h-1zM31 37h1v1h-1zM37 37h1v1h-1zM40 37h1v1h-1zM0 38h1v1h-1zM1 38h1v1h-1zM4 38h1v1h-1zM8 38h1v1h-1zM10 38h1v1h-1zM11 38h1v1h-1zM12 38h1v1h-1zM13 38h1v1h-1zM15 38h1v1h-1zM16 38h1v1h-1zM17 38h1v1h-1zM18 38h1v1h-1zM19 38h1v1h-1zM20 38h1v1h-1zM22 38h1v1h-1zM24 38h1v1h-1zM29 38h1v1h-1zM31 38h1v1h-1zM32 38h1v1h-1zM33 38h1v1h-1zM36 38h1v1h-1zM37 38h1v1h-1zM38 38h1v1h-1zM39 38h1v1h-1zM41 38h1v1h-1zM42 38h1v1h-1zM2 39h1v1h-1zM5 39h1v1h-1zM8 39h1v1h-1zM9 39h1v1h-1zM10 39h1v1h-1zM15 39h1v1h-1zM16 39h1v1h-1zM21 39h1v1h-1zM24 39h1v1h-1zM25 39h1v1h-1zM26 39h1v1h-1zM29 39h1v1h-1zM30 39h1v1h-1zM33 39h1v1h-1zM35 39h1v1h-1zM40 39h1v1h-1zM41 39h1v1h-1zM1 40h1v1h-1zM2 40h1v1h-1zM3 40h1v1h-1zM4 40h1v1h-1zM7 40h1v1h-1zM8 40h1v1h-1zM10 40h1v1h-1zM12 40h1v1h-1zM13 40h1v1h-1zM14 40h1v1h-1zM16 40h1v1h-1zM17 40h1v1h-1zM18 40h1v1h-1zM19 40h1v1h-1zM26 40h1v1h-1zM28 40h1v1h-1zM29 40h1v1h-1zM32 40h1v1h-1zM33 40h1v1h-1zM38 40h1v1h-1zM39 40h1v1h-1zM40 40h1v1h-1zM41 40h1v1h-1zM1 41h1v1h-1zM2 41h1v1h-1zM3 41h1v1h-1zM7 41h1v1h-1zM9 41h1v1h-1zM10 41h1v1h-1zM11 41h1v1h-1zM12 41h1v1h-1zM16 41h1v1h-1zM17 41h1v1h-1zM18 41h1v1h-1zM19 41h1v1h-1zM21 41h1v1h-1zM24 41h1v1h-1zM25 41h1v1h-1zM31 41h1v1h-1zM32 41h1v1h-1zM37 41h1v1h-1zM38 41h1v1h-1zM39 41h1v1h-1zM41 41h1v1h-1zM2 42h1v1h-1zM4 42h1v1h-1zM8 42h1v1h-1zM13 42h1v1h-1zM14 42h1v1h-1zM15 42h1v1h-1zM22 42h1v1h-1zM24 42h1v1h-1zM26 42h1v1h-1zM29 42h1v1h-1zM31 42h1v1h-1zM34 42h1v1h-1zM39 42h1v1h-1zM41 42h1v1h-1z"/><path fill="#0000ff" d="M0 0h1v1h-1zM1 0h1v1h-1zM2 0h1v1h-1zM4 0h1v1h-1zM7 0h1v1h-1zM8 0h1v1h-1zM14 0h1v1h-1zM15 0h1v1h-1zM16 0h1v1h-1zM20 0h1v1h-1zM21 0h1v1h-1zM22 0h1v1h-1zM23 0h1v1h-1zM24 0h1v1h-1zM26 0h1v1h-1zM28 0h1v1h-1zM35 0h1v1h-1zM38 0h1v1h-1zM42 0h1v1h-1zM1 1h1v1h-1zM2 1h1v1h-1zM5 1h1v1h-1zM6 1h1v1h-1zM9 1h1v1h-1zM11 1h1v1h-1zM14 1h1v1h-1zM15 1h1v1h-1zM18 1h1v1h-1zM22 1h1v1h-1zM24 1h1v1h-1zM27 1h1v1h-1zM29 1h1v1h-1zM30 1h1v1h-1zM32 1h1v1h-1zM34 1h1v1h-1zM35 1h1v1h-1zM36 1h1v1h-1zM37 1h1v1h-1zM39 1h1v1h-1zM42 1h1v1h-1zM0 2h1v1h-1zM1 2h1v1h-1zM2 2h1v1h-1zM3 2h1v1h-1zM6 2h1v1h-1zM7 2h1v1h-1zM8 2h1v1h-1zM9 2h1v1h-1zM13 2h1v1h-1zM16 2h1v1h-1zM17 2h1v1h-1zM19 2h1v1h-1zM20 2h1v1h-1zM21 2h1v1h-1zM23 2h1v1h-1zM25 2h1v1h-1zM27 2h1v1h-1zM28 2h1v1h-1zM31 2h1v1h-1zM38 2h1v1h-1zM39 2h1v1h-1zM40 2h1v1h-1zM1 3h1v1h-1zM2 3h1v1h-1zM3 3h1v1h-1zM7 3h1v1h-1zM9 3h1v1h-1zM10 3h1v1h-1zM11 3h1v1h-1zM13 3h1v1h-1zM16 3h1v1h-1zM19 3h1v1h-1zM21 3h1v1h-1zM24 3h1v1h-1zM26 3h1v1h-1zM27 3h1v1h-1zM28 3h1v1h-1zM29 3h1v1h-1zM31 3h1v1h-1zM32 3h1v1h-1zM35 3h1v1h-1zM37 3h1v1h-1zM39 3h1v1h-1zM42 3h1v1h-1zM0 4h1v1h-1zM1 4h1v1h-1zM2 4h1v1h-1zM3 4h1v1h-1zM6 4h1v1h-1zM12 4h1v1h-1zM15 4h1v1h-1zM18 4h1v1h-1zM21 4h1v1h-1zM23 4h1v1h-1zM26 4h1v1h-1zM28 4h1v1h-1zM32 4h1v1h-1zM34 4h1v1h-1zM39 4h1v1h-1zM41 4h1v1h-1zM0 5h1v1h-1zM1 5h1v1h-1zM3 5h1v1h-1zM5 5h1v1h-1zM10 5h1v1h-1zM13 5h1v1h-1zM14 5h1v1h-1zM17 5h1v1h-1zM18 5h1v1h-1zM19 5h1v1h-1zM20 5h1v1h-1zM25 5h1v1h-1zM29 5h1v1h-1zM33 5h1v1h-1zM36 5h1v1h-1zM38 5h1v1h-1zM40 5h1v1h-1zM0 6h1v1h-1zM2 6h1v1h-1zM3 6h1v1h-1zM4 6h1v1h-1zM5 6h1v1h-1zM7 6h1v1h-1zM9 6h1v1h-1zM11 6h1v1h-1zM14 6h1v1h-1zM19 6h1v1h-1zM20 6h1v1h-1zM21 6h1v1h-1zM24 6h1v1h-1zM26 6h1v1h-1zM27 6h1v1h-1zM29 6h1v1h-1zM31 6h1v1h-1zM32 6h1v1h-1zM39 6h1v1h-1zM40 6h1v1h-1zM1 7h1v1h-1zM2 7h1v1h-1zM3 7h1v1h-1zM4 7h1v1h-1zM6 7h1v1h-1zM11 7h1v1h-1zM15 7h1v1h-1zM17 7h1v1h-1zM18 7h1v1h-1zM19 7h1v1h-1zM22 7h1v1h-1zM25 7h1v1h-1zM26 7h1v1h-1zM27 7h1v1h-1zM29 7h1v1h-1zM30 7h1v1h-1zM38 7h1v1h-1zM39 7h1v1h-1zM5 8h1v1h-1zM6 8h1v1h-1zM7 8h1v1h-1zM8 8h1v1h-1zM10 8h1v1h-1zM11 8h1v1h-1zM13 8h1v1h-1zM14 8h1v1h-1zM15 8h1v1h-1zM17 8h1v1h-1zM21 8h1v1h-1zM22 8h1v1h-1zM24 8h1v1h-1zM27 8h1v1h-1zM28 8h1v1h-1zM29 8h1v1h-1zM30 8h1v1h-1zM32 8h1v1h-1zM33 8h1v1h-1zM34 8h1v1h-1zM37 8h1v1h-1zM41 8h1v1h-1zM0 9h1v1h-1zM3 9h1v1h-1zM5 9h1v1h-1zM7 9h1v1h-1zM8 9h1v1h-1zM10 9h1v1h-1zM11 9h1v1h-1zM12 9h1v1h-1zM14 9h1v1h-1zM17 9h1v1h-1zM18 9h1v1h-1zM20 9h1v1h-1zM21 9h1v1h-1zM22 9h1v1h-1zM24 9h1v1h-1zM27 9h1v1h-1zM29 9h1v1h-1zM30 9h1v1h-1zM34 9h1v1h-1zM35 9h1v1h-1zM39 9h1v1h-1zM40 9h1v1h-1zM41 9h1v1h-1zM42 9h1v1h-1zM1 10h1v1h-1zM3 10h1v1h-1zM10 10h1v1h-1zM13 10h1v1h-1zM15 10h1v1h-1zM18 10h1v1h-1zM20 10h1v1h-1zM24 10h1v1h-1zM25 10h1v1h-1zM29 10h1v1h-1zM30 10h1v1h-1zM31 10h1v1h-1zM35 10h1v1h-1zM37 10h1v1h-1zM38 10h1v1h-1zM41 10h1v1h-1zM42 10h1v1h-1zM1 11h1v1h-1zM2 11h1v1h-1zM4 11h1v1h-1zM8 11h1v1h-1zM9 11h1v1h-1zM10 11h1v1h-1zM11 11h1v1h-1zM12 11h1v1h-1zM14 11h1v1h-1zM15 11h1v1h-1zM22 11h1v1h-1zM23 11h1v1h-1zM26 11h1v1h-1zM27 11h1v1h-1zM29 11h1v1h-1zM31 11h1v1h-1zM34 11h1v1h-1zM35 11h1v1h-1zM36 11h1v1h-1zM39 11h1v1h-1zM40 11h1v1h-1zM0 12h1v1h-1zM1 12h1v1h-1zM2 12h1v1h-1zM5 12h1v1h-1zM6 12h1v1h-1zM8 12h1v1h-1zM30 12h1v1h-1zM31 12h1v1h-1zM32 12h1v1h-1zM33 12h1v1h-1zM36 12h1v1h-1zM37 12h1v1h-1zM38 12h1v1h-1zM39 12h1v1h-1zM40 12h1v1h-1zM1 13h1v1h-1zM3 13h1v1h-1zM5 13h1v1h-1zM7 13h1v1h-1zM8 13h1v1h-1zM14 13h1v1h-1zM15 13h1v1h-1zM16 13h1v1h-1zM18 13h1v1h-1zM21 13h1v1h-1zM23 13h1v1h-1zM24 13h1v1h-1zM25 13h1v1h-1zM28 13h1v1h-1zM31 13h1v1h-1zM34 13h1v1h-1zM35 13h1v1h-1zM36 13h1v1h-1zM37 13h1v1h-1zM0 14h1v1h-1zM1 14h1v1h-1zM2 14h1v1h-1zM3 14h1v1h-1zM5 14h1v1h-1zM7 14h1v1h-1zM8 14h1v1h-1zM9 14h1v1h-1zM11 14h1v1h-1zM12 14h1v1h-1zM13 14h1v1h-1zM16 14h1v1h-1zM17 14h1v1h-1zM18 14h1v1h-1zM19 14h1v1h-1zM21 14h1v1h-1zM22 14h1v1h-1zM23 14h1v1h-1zM26 14h1v1h-1zM27 14h1v1h-1zM32 14h1v1h-1zM34 14h1v1h-1zM36 14h1v1h-1zM38 14h1v1h-1zM41 14h1v1h-1zM2 15h1v1h-1zM3 15h1v1h-1zM4 15h1v1h-1zM6 15h1v1h-1zM9 15h1v1h-1zM12 15h1v1h-1zM14 15h1v1h-1zM16 15h1v1h-1zM17 15h1v1h-1zM18 15h1v1h-1zM20 15h1v1h-1zM22 15h1v1h-1zM25 15h1v1h-1zM26 15h1v1h-1zM27 15h1v1h-1zM29 15h1v1h-1zM30 15h1v1h-1zM32 15h1v1h-1zM34 15h1v1h-1zM39 15h1v1h-1zM41 15h1v1h-1zM42 15h1v1h-1zM0 16h1v1h-1zM1 16h1v1h-1zM7 16h1v1h-1zM8 16h1v1h-1zM11 16h1v1h-1zM14 16h1v1h-1zM15 16h1v1h-1zM17 16h1v1h-1zM20 16h1v1h-1zM21 16h1v1h-1zM25 16h1v1h-1zM26 16h1v1h-1zM27 16h1v1h-1zM31 16h1v1h-1zM38 16h1v1h-1zM39 16h1v1h-1zM0 17h1v1h-1zM1 17h1v1h-1zM4 17h1v1h-1zM5 17h1v1h-1zM6 17h1v1h-1zM9 17h1v1h-1zM10 17h1v1h-1zM15 17h1v1h-1zM19 17h1v1h-1zM21 17h1v1h-1zM22 17h1v1h-1zM26 17h1v1h-1zM29 17h1v1h-1zM30 17h1v1h-1zM31 17h1v1h-1zM34 17h1v1h-1zM37 17h1v1h-1zM39 17h1v1h-1zM40 17h1v1h-1zM3 18h1v1h-1zM6 18h1v1h-1zM7 18h1v1h-1zM8 18h1v1h-1zM9 18h1v1h-1zM12 18h1v1h-1zM14 18h1v1h-1zM16 18h1v1h-1zM17 18h1v1h-1zM19 18h1v1h-1zM20 18h1v1h-1zM21 18h1v1h-1zM24 18h1v1h-1zM30 18h1v1h-1zM31 18h1v1h-1zM32 18h1v1h-1zM33 18h1v1h-1zM37 18h1v1h-1zM0 19h1v1h-1zM2 19h1v1h-1zM7 19h1v1h-1zM10 19h1v1h-1zM12 19h1v1h-1zM14 19h1v1h-1zM16 19h1v1h-1zM20 19h1v1h-1zM21 19h1v1h-1zM22 19h1v1h-1zM23 19h1v1h-1zM24 19h1v1h-1zM25 19h1v1h-1zM26 19h1v1h-1zM29 19h1v1h-1zM33 19h1v1h-1zM35 19h1v1h-1zM36 19h1v1h-1zM37 19h1v1h-1zM39 19h1v1h-1zM1 20h1v1h-1zM4 20h1v1h-1zM5 20h1v1h-1zM6 20h1v1h-1zM10 20h1v1h-1zM12 20h1v1h-1zM14 20h1v1h-1zM18 20h1v1h-1zM19 20h1v1h-1zM20 20h1v1h-1zM21 20h1v1h-1zM23 20h1v1h-1zM24 20h1v1h-1zM26 20h1v1h-1zM27 20h1v1h-1zM29 20h1v1h-1zM30 20h1v1h-1zM32 20h1v1h-1zM33 20h1v1h-1zM35 20h1v1h-1zM38 20h1v1h-1zM39 20h1v1h-1zM2 21h1v1h-1zM4 21h1v1h-1zM6 21h1v1h-1zM7 21h1v1h-1zM9 21h1v1h-1zM18 21h1v1h-1zM19 21h1v1h-1zM21 21h1v1h-1zM22 21h1v1h-1zM24 21h1v1h-1zM26 21h1v1h-1zM28 21h1v1h-1zM31 21h1v1h-1zM32 21h1v1h-1zM33 21h1v1h-1zM37 21h1v1h-1zM2 22h1v1h-1zM6 22h1v1h-1zM7 22h1v1h-1zM8 22h1v1h-1zM9 22h1v1h-1zM13 22h1v1h-1zM17 22h1v1h-1zM18 22h1v1h-1zM19 22h1v1h-1zM20 22h1v1h-1zM21 22h1v1h-1zM29 22h1v1h-1zM31 22h1v1h-1zM33 22h1v1h-1zM38 22h1v1h-1zM39 22h1v1h-1zM40 22h1v1h-1zM1 23h1v1h-1zM3 23h1v1h-1zM5 23h1v1h-1zM6 23h1v1h-1zM7 23h1v1h-1zM13 23h1v1h-1zM14 23h1v1h-1zM15 23h1v1h-1zM21 23h1v1h-1zM22 23h1v1h-1zM26 23h1v1h-1zM30 23h1v1h-1zM32 23h1v1h-1zM35 23h1v1h-1zM38 23h1v1h-1zM41 23h1v1h-1zM4 24h1v1h-1zM5 24h1v1h-1zM6 24h1v1h-1zM8 24h1v1h-1zM9 24h1v1h-1zM14 24h1v1h-1zM15 24h1v1h-1zM18 24h1v1h-1zM21 24h1v1h-1zM25 24h1v1h-1zM27 24h1v1h-1zM30 24h1v1h-1zM31 24h1v1h-1zM32 24h1v1h-1zM34 24h1v1h-1zM37 24h1v1h-1zM40 24h1v1h-1zM2 25h1v1h-1zM3 25h1v1h-1zM5 25h1v1h-1zM8 25h1v1h-1zM12 25h1v1h-1zM15 25h1v1h-1zM16 25h1v1h-1zM18 25h1v1h-1zM19 25h1v1h-1zM20 25h1v1h-1zM22 25h1v1h-1zM23 25h1v1h-1zM24 25h1v1h-1zM26 25h1v1h-1zM28 25h1v1h-1zM29 25h1v1h-1zM34 25h1v1h-1zM42 25h1v1h-1zM0 26h1v1h-1zM3 26h1v1h-1zM7 26h1v1h-1zM8 26h1v1h-1zM10 26h1v1h-1zM12 26h1v1h-1zM14 26h1v1h-1zM17 26h1v1h-1zM23 26h1v1h-1zM27 26h1v1h-1zM29 26h1v1h-1zM31 26h1v1h-1zM32 26h1v1h-1zM33 26h1v1h-1zM40 26h1v1h-1zM41 26h1v1h-1zM3 27h1v1h-1zM4 27h1v1h-1zM7 27h1v1h-1zM8 27h1v1h-1zM20 27h1v1h-1zM22 27h1v1h-1zM23 27h1v1h-1zM24 27h1v1h-1zM25 27h1v1h-1zM26 27h1v1h-1zM29 27h1v1h-1zM30 27h1v1h-1zM31 27h1v1h-1zM37 27h1v1h-1zM39 27h1v1h-1zM0 28h1v1h-1zM1 28h1v1h-1zM3 28h1v1h-1zM4 28h1v1h-1zM5 28h1v1h-1zM6 28h1v1h-1zM7 28h1v1h-1zM9 28h1v1h-1zM10 28h1v1h-1zM11 28h1v1h-1zM12 28h1v1h-1zM15 28h1v1h-1zM24 28h1v1h-1zM26 28h1v1h-1zM27 28h1v1h-1zM37 28h1v1h-1zM39 28h1v1h-1zM41 28h1v1h-1zM1 29h1v1h-1zM3 29h1v1h-1zM7 29h1v1h-1zM8 29h1v1h-1zM9 29h1v1h-1zM10 29h1v1h-1zM11 29h1v1h-1zM14 29h1v1h-1zM17 29h1v1h-1zM18 29h1v1h-1zM19 29h1v1h-1zM20 29h1v1h-1zM21 29h1v1h-1zM24 29h1v1h-1zM25 29h1v1h-1zM30 29h1v1h-1zM34 29h1v1h-1zM42 29h1v1h-1zM2 30h1v1h-1zM8 30h1v1h-1zM9 30h1v1h-1zM11 30h1v1h-1zM12 30h1v1h-1zM14 30h1v1h-1zM17 30h1v1h-1zM20 30h1v1h-1zM22 30h1v1h-1zM24 30h1v1h-1zM25 30h1v1h-1zM27 30h1v1h-1zM29 30h1v1h-1zM30 30h1v1h-1zM31 30h1v1h-1zM34 30h1v1h-1zM35 30h1v1h-1zM38 30h1v1h-1zM40 30h1v1h-1zM1 31h1v1h-1zM2 31h1v1h-1zM4 31h1v1h-1zM7 31h1v1h-1zM8 31h1v1h-1zM9 31h1v1h-1zM13 31h1v1h-1zM17 31h1v1h-1zM18 31h1v1h-1zM19 31h1v1h-1zM21 31h1v1h-1zM24 31h1v1h-1zM26 31h1v1h-1zM29 31h1v1h-1zM32 31h1v1h-1zM33 31h1v1h-1zM36 31h1v1h-1zM37 31h1v1h-1zM39 31h1v1h-1zM40 31h1v1h-1zM41 31h1v1h-1zM2 32h1v1h-1zM4 32h1v1h-1zM7 32h1v1h-1zM8 32h1v1h-1zM9 32h1v1h-1zM11 32h1v1h-1zM14 32h1v1h-1zM16 32h1v1h-1zM17 32h1v1h-1zM23 32h1v1h-1zM24 32h1v1h-1zM27 32h1v1h-1zM28 32h1v1h-1zM36 32h1v1h-1zM41 32h1v1h-1zM42 32h1v1h-1zM2 33h1v1h-1zM10 33h1v1h-1zM13 33h1v1h-1zM15 33h1v1h-1zM17 33h1v1h-1zM18 33h1v1h-1zM19 33h1v1h-1zM24 33h1v1h-1zM28 33h1v1h-1zM31 33h1v1h-1zM34 33h1v1h-1zM38 33h1v1h-1zM39 33h1v1h-1zM40 33h1v1h-1zM42 33h1v1h-1zM0 34h1v1h-1zM4 34h1v1h-1zM5 34h1v1h-1zM15 34h1v1h-1zM17 34h1v1h-1zM20 34h1v1h-1zM22 34h1v1h-1zM23 34h1v1h-1zM24 34h1v1h-1zM26 34h1v1h-1zM28 34h1v1h-1zM30 34h1v1h-1zM32 34h1v1h-1zM34 34h1v1h-1zM35 34h1v1h-1zM36 34h1v1h-1zM39 34h1v1h-1zM40 34h1v1h-1zM41 34h1v1h-1zM0 35h1v1h-1zM1 35h1v1h-1zM2 35h1v1h-1zM4 35h1v1h-1zM5 35h1v1h-1zM6 35h1v1h-1zM13 35h1v1h-1zM17 35h1v1h-1zM19 35h1v1h-1zM21 35h1v1h-1zM24 35h1v1h-1zM26 35h1v1h-1zM28 35h1v1h-1zM30 35h1v1h-1zM31 35h1v1h-1zM33 35h1v1h-1zM34 35h1v1h-1zM35 35h1v1h-1zM36 35h1v1h-1zM39 35h1v1h-1zM1 36h1v1h-1zM5 36h1v1h-1zM7 36h1v1h-1zM10 36h1v1h-1zM11 36h1v1h-1zM12 36h1v1h-1zM15 36h1v1h-1zM16 36h1v1h-1zM22 36h1v1h-1zM27 36h1v1h-1zM29 36h1v1h-1zM30 36h1v1h-1zM31 36h1v1h-1zM35 36h1v1h-1zM36 36h1v1h-1zM39 36h1v1h-1zM40 36h1v1h-1zM41 36h1v1h-1zM3 37h1v1h-1zM7 37h1v1h-1zM9 37h1v1h-1zM11 37h1v1h-1zM12 37h1v1h-1zM14 37h1v1h-1zM18 37h1v1h-1zM19 37h1v1h-1zM23 37h1v1h-1zM24 37h1v1h-1zM27 37h1v1h-1zM29 37h1v1h-1zM32 37h1v1h-1zM33 37h1v1h-1zM34 37h1v1h-1zM35 37h1v1h-1zM36 37h1v1h-1zM38 37h1v1h-1zM42 37h1v1h-1zM2 38h1v1h-1zM3 38h1v1h-1zM5 38h1v1h-1zM6 38h1v1h-1zM9 38h1v1h-1zM14 38h1v1h-1zM21 38h1v1h-1zM23 38h1v1h-1zM26 38h1v1h-1zM28 38h1v1h-1zM30 38h1v1h-1zM34 38h1v1h-1zM40 38h1v1h-1zM0 39h1v1h-1zM1 39h1v1h-1zM3 39h1v1h-1zM4 39h1v1h-1zM6 39h1v1h-1zM11 39h1v1h-1zM12 39h1v1h-1zM13 39h1v1h-1zM17 39h1v1h-1zM18 39h1v1h-1zM19 39h1v1h-1zM20 39h1v1h-1zM23 39h1v1h-1zM28 39h1v1h-1zM31 39h1v1h-1zM32 39h1v1h-1zM36 39h1v1h-1zM38 39h1v1h-1zM39 39h1v1h-1zM42 39h1v1h-1zM0 40h1v1h-1zM6 40h1v1h-1zM9 40h1v1h-1zM11 40h1v1h-1zM15 40h1v1h-1zM20 40h1v1h-1zM21 40h1v1h-1zM24 40h1v1h-1zM30 40h1v1h-1zM31 40h1v1h-1zM34 40h1v1h-1zM35 40h1v1h-1zM36 40h1v1h-1zM42 40h1v1h-1zM0 41h1v1h-1zM4 41h1v1h-1zM5 41h1v1h-1zM15 41h1v1h-1zM20 41h1v1h-1zM22 41h1v1h-1zM23 41h1v1h-1zM26 41h1v1h-1zM27 41h1v1h-1zM28 41h1v1h-1zM30 41h1v1h-1zM34 41h1v1h-1zM36 41h1v1h-1zM40 41h1v1h-1zM42 41h1v1h-1zM0 42h1v1h-1zM1 42h1v1h-1zM3 42h1v1h-1zM5 42h1v1h-1zM6 42h1v1h-1zM7 42h1v1h-1zM12 42h1v1h-1zM17 42h1v1h-1zM18 42h1v1h-1zM19 42h1v1h-1zM21 42h1v1h-1zM23 42h1v1h-1zM25 42h1v1h-1zM27 42h1v1h-1zM28 42h1v1h-1zM33 42h1v1h-1zM35 42h1v1h-1zM36 42h1v1h-1zM38 42h1v1h-1zM42 42h1v1h-1z"/><path fill="#ffff00" d="M3 0h1v1h-1zM19 1h1v1h-1zM31 1h1v1h-1zM40 1h1v1h-1zM15 3h1v1h-1zM41 3h1v1h-1zM8 4h1v1h-1zM17 4h1v1h-1zM30 4h1v1h-1zM7 5h1v1h-1zM15 5h1v1h-1zM24 5h1v1h-1zM27 5h1v1h-1zM41 6h1v1h-1zM13 7h1v1h-1zM31 7h1v1h-1zM9 8h1v1h-1zM26 8h1v1h-1zM6 9h1v1h-1zM9 10h1v1h-1zM11 10h1v1h-1zM33 10h1v1h-1zM34 10h1v1h-1zM3 11h1v1h-1zM13 11h1v1h-1zM20 11h1v1h-1zM29 12h1v1h-1zM0 13h1v1h-1zM38 13h1v1h-1zM14 14h1v1h-1zM15 14h1v1h-1zM19 16h1v1h-1zM37 16h1v1h-1zM3 17h1v1h-1zM14 17h1v1h-1zM33 17h1v1h-1zM38 17h1v1h-1zM0 18h1v1h-1zM23 18h1v1h-1zM3 19h1v1h-1zM17 19h1v1h-1zM18 19h1v1h-1zM25 20h1v1h-1zM28 20h1v1h-1zM15 21h1v1h-1zM16 21h1v1h-1zM20 21h1v1h-1zM36 21h1v1h-1zM42 21h1v1h-1zM11 23h1v1h-1zM1 25h1v1h-1zM31 25h1v1h-1zM35 25h1v1h-1zM42 26h1v1h-1zM6 27h1v1h-1zM14 27h1v1h-1zM32 27h1v1h-1zM36 27h1v1h-1zM22 28h1v1h-1zM16 30h1v1h-1zM10 31h1v1h-1zM12 32h1v1h-1zM21 32h1v1h-1zM11 33h1v1h-1zM12 33h1v1h-1zM1 34h1v1h-1zM13 34h1v1h-1zM16 34h1v1h-1zM19 34h1v1h-1zM25 35h1v1h-1zM27 35h1v1h-1zM38 35h1v1h-1zM3 36h1v1h-1zM18 36h1v1h-1zM23 36h1v1h-1zM38 36h1v1h-1zM0 37h1v1h-1zM4 37h1v1h-1zM5 37h1v1h-1zM30 37h1v1h-1zM39 37h1v1h-1zM7 39h1v1h-1zM27 39h1v1h-1zM34 39h1v1h-1zM37 39h1v1h-1zM5 40h1v1h-1zM22 40h1v1h-1zM25 40h1v1h-1zM27 40h1v1h-1zM29 41h1v1h-1zM35 41h1v1h-1zM11 42h1v1h-1zM16 42h1v1h-1zM30 42h1v1h-1zM37 42h1v1h-1z"/><path fill="#ff00ff" d="M30 3h1v1h-1zM9 5h1v1h-1zM32 5h1v1h-1zM17 6h1v1h-1zM0 7h1v1h-1zM33 7h1v1h-1zM25 8h1v1h-1zM38 8h1v1h-1zM13 9h1v1h-1zM23 10h1v1h-1zM18 12h1v1h-1zM10 13h1v1h-1zM27 13h1v1h-1zM18 16h1v1h-1zM16 17h1v1h-1zM41 18h1v1h-1zM1 19h1v1h-1zM37 20h1v1h-1zM5 21h1v1h-1zM34 21h1v1h-1zM42 22h1v1h-1zM26 24h1v1h-1zM36 24h1v1h-1zM27 25h1v1h-1zM1 26h1v1h-1zM5 26h1v1h-1zM9 26h1v1h-1zM11 27h1v1h-1zM38 28h1v1h-1zM38 29h1v1h-1zM31 31h1v1h-1zM13 32h1v1h-1zM38 34h1v1h-1zM8 37h1v1h-1zM41 37h1v1h-1zM27 38h1v1h-1zM14 39h1v1h-1zM22 39h1v1h-1zM23 40h1v1h-1zM33 41h1v1h-1zM32 42h1v1h-1zM40 42h1v1h-1z"/><path fill="#00ffff" d="M21 1h1v1h-1zM33 2h1v1h-1zM13 4h1v1h-1zM35 4h1v1h-1zM30 5h1v1h-1zM23 7h1v1h-1zM3 8h1v1h-1zM20 8h1v1h-1zM36 8h1v1h-1zM40 8h1v1h-1zM6 10h1v1h-1zM14 10h1v1h-1zM16 10h1v1h-1zM39 10h1v1h-1zM6 11h1v1h-1zM19 11h1v1h-1zM33 11h1v1h-1zM38 11h1v1h-1zM14 12h1v1h-1zM15 12h1v1h-1zM26 12h1v1h-1zM22 13h1v1h-1zM33 14h1v1h-1zM35 15h1v1h-1zM37 15h1v1h-1zM16 16h1v1h-1zM17 17h1v1h-1zM27 18h1v1h-1zM36 18h1v1h-1zM9 19h1v1h-1zM0 20h1v1h-1zM13 20h1v1h-1zM3 21h1v1h-1zM29 21h1v1h-1zM38 21h1v1h-1zM3 22h1v1h-1zM16 22h1v1h-1zM30 22h1v1h-1zM19 23h1v1h-1zM28 23h1v1h-1zM33 24h1v1h-1zM11 25h1v1h-1zM19 26h1v1h-1zM37 26h1v1h-1zM9 27h1v1h-1zM19 27h1v1h-1zM33 27h1v1h-1zM14 28h1v1h-1zM18 28h1v1h-1zM21 28h1v1h-1zM6 29h1v1h-1zM12 29h1v1h-1zM35 29h1v1h-1zM39 29h1v1h-1zM20 31h1v1h-1zM20 32h1v1h-1zM33 32h1v1h-1zM7 33h1v1h-1zM14 33h1v1h-1zM22 33h1v1h-1zM2 34h1v1h-1zM22 35h1v1h-1zM0 36h1v1h-1zM33 36h1v1h-1zM6 37h1v1h-1zM25 38h1v1h-1zM35 38h1v1h-1zM37 40h1v1h-1zM6 41h1v1h-1zM8 41h1v1h-1zM13 41h1v1h-1zM9 42h1v1h-1zM10 42h1v1h-1z"/><path fill="#ff0000" d="M19 0h1v1h-1zM26 2h1v1h-1zM8 5h1v1h-1zM4 8h1v1h-1zM33 15h1v1h-1zM32 16h1v1h-1zM2 17h1v1h-1zM8 21h1v1h-1zM11 26h1v1h-1zM16 26h1v1h-1zM29 33h1v1h-1zM21 34h1v1h-1zM19 36h1v1h-1zM34 36h1v1h-1zM7 38h1v1h-1zM14 41h1v1h-1zM20 42h1v1h-1z"/></pattern><pattern id="pm" patternUnits="userSpaceOnUse" width="39" height="39"><path fill="#2a9a98" d="M0 0h1v1h-1zM2 0h1v1h-1zM9 0h1v1h-1zM28 0h1v1h-1zM30 0h1v1h-1zM32 0h1v1h-1zM36 0h1v1h-1zM2 1h1v1h-1zM4 1h1v1h-1zM7 1h1v1h-1zM14 1h1v1h-1zM15 1h1v1h-1zM17 1h1v1h-1zM18 1h1v1h-1zM21 1h1v1h-1zM36 1h1v1h-1zM7 2h1v1h-1zM11 2h1v1h-1zM12 2h1v1h-1zM20 2h1v1h-1zM25 2h1v1h-1zM31 2h1v1h-1zM33 2h1v1h-1zM12 3h1v1h-1zM13 3h1v1h-1zM17 3h1v1h-1zM25 3h1v1h-1zM26 3h1v1h-1zM31 3h1v1h-1zM36 3h1v1h-1zM38 3h1v1h-1zM1 4h1v1h-1zM10 4h1v1h-1zM13 4h1v1h-1zM16 4h1v1h-1zM24 4h1v1h-1zM30 4h1v1h-1zM31 4h1v1h-1zM32 4h1v1h-1zM35 4h1v1h-1zM2 5h1v1h-1zM3 5h1v1h-1zM10 5h1v1h-1zM22 5h1v1h-1zM23 5h1v1h-1zM24 5h1v1h-1zM26 5h1v1h-1zM33 5h1v1h-1zM0 6h1v1h-1zM1 6h1v1h-1zM2 6h1v1h-1zM5 6h1v1h-1zM7 6h1v1h-1zM10 6h1v1h-1zM14 6h1v1h-1zM18 6h1v1h-1zM20 6h1v1h-1zM23 6h1v1h-1zM24 6h1v1h-1zM34 6h1v1h-1zM35 6h1v1h-1zM0 7h1v1h-1zM3 7h1v1h-1zM11 7h1v1h-1zM13 7h1v1h-1zM18 7h1v1h-1zM21 7h1v1h-1zM23 7h1v1h-1zM33 7h1v1h-1zM34 7h1v1h-1zM38 7h1v1h-1zM2 8h1v1h-1zM5 8h1v1h-1zM6 8h1v1h-1zM19 8h1v1h-1zM32 8h1v1h-1zM25 9h1v1h-1zM27 9h1v1h-1zM35 9h1v1h-1zM11 10h1v1h-1zM12 10h1v1h-1zM20 10h1v1h-1zM23 10h1v1h-1zM29 10h1v1h-1zM32 10h1v1h-1zM38 10h1v1h-1zM0 11h1v1h-1zM11 11h1v1h-1zM16 11h1v1h-1zM22 11h1v1h-1zM29 11h1v1h-1zM36 11h1v1h-1zM6 12h1v1h-1zM11 12h1v1h-1zM14 12h1v1h-1zM15 12h1v1h-1zM16 12h1v1h-1zM24 12h1v1h-1zM36 12h1v1h-1zM0 13h1v1h-1zM11 13h1v1h-1zM22 13h1v1h-1zM29 13h1v1h-1zM30 13h1v1h-1zM35 13h1v1h-1zM37 13h1v1h-1zM2 14h1v1h-1zM5 14h1v1h-1zM22 14h1v1h-1zM24 14h1v1h-1zM30 14h1v1h-1zM33 14h1v1h-1zM4 15h1v1h-1zM6 15h1v1h-1zM7 15h1v1h-1zM9 15h1v1h-1zM10 15h1v1h-1zM24 15h1v1h-1zM29 15h1v1h-1zM34 15h1v1h-1zM9 16h1v1h-1zM20 16h1v1h-1zM25 16h1v1h-1zM29 16h1v1h-1zM37 16h1v1h-1zM5 17h1v1h-1zM15 17h1v1h-1zM16 17h1v1h-1zM19 17h1v1h-1zM23 17h1v1h-1zM24 17h1v1h-1zM26 17h1v1h-1zM32 17h1v1h-1zM34 17h1v1h-1zM35 17h1v1h-1zM9 18h1v1h-1zM12 18h1v1h-1zM15 18h1v1h-1zM18 18h1v1h-1zM20 18h1v1h-1zM22 18h1v1h-1zM30 18h1v1h-1zM32 18h1v1h-1zM34 18h1v1h-1zM0 19h1v1h-1zM6 19h1v1h-1zM14 19h1v1h-1zM25 19h1v1h-1zM29 19h1v1h-1zM34 19h1v1h-1zM3 20h1v1h-1zM8 20h1v1h-1zM15 20h1v1h-1zM17 20h1v1h-1zM19 20h1v1h-1zM22 20h1v1h-1zM26 20h1v1h-1zM1 21h1v1h-1zM2 21h1v1h-1zM9 21h1v1h-1zM17 21h1v1h-1zM23 21h1v1h-1zM25 21h1v1h-1zM28 21h1v1h-1zM30 21h1v1h-1zM32 21h1v1h-1zM33 21h1v1h-1zM35 21h1v1h-1zM36 21h1v1h-1zM37 21h1v1h-1zM0 22h1v1h-1zM6 22h1v1h-1zM8 22h1v1h-1zM13 22h1v1h-1zM14 22h1v1h-1zM20 22h1v1h-1zM27 22h1v1h-1zM31 22h1v1h-1zM12 23h1v1h-1zM14 23h1v1h-1zM17 23h1v1h-1zM20 23h1v1h-1zM22 23h1v1h-1zM26 23h1v1h-1zM27 23h1v1h-1zM38 23h1v1h-1zM21 24h1v1h-1zM22 24h1v1h-1zM26 24h1v1h-1zM27 24h1v1h-1zM36 24h1v1h-1zM0 25h1v1h-1zM3 25h1v1h-1zM7 25h1v1h-1zM8 25h1v1h-1zM18 25h1v1h-1zM20 25h1v1h-1zM26 25h1v1h-1zM30 25h1v1h-1zM3 26h1v1h-1zM15 26h1v1h-1zM21 26h1v1h-1zM22 26h1v1h-1zM30 26h1v1h-1zM32 26h1v1h-1zM33 26h1v1h-1zM35 26h1v1h-1zM15 27h1v1h-1zM16 27h1v1h-1zM17 27h1v1h-1zM25 27h1v1h-1zM29 27h1v1h-1zM34 27h1v1h-1zM38 27h1v1h-1zM4 28h1v1h-1zM24 28h1v1h-1zM35 28h1v1h-1zM38 28h1v1h-1zM1 29h1v1h-1zM20 29h1v1h-1zM24 29h1v1h-1zM28 29h1v1h-1zM33 29h1v1h-1zM35 29h1v1h-1zM36 29h1v1h-1zM1 30h1v1h-1zM4 30h1v1h-1zM11 30h1v1h-1zM14 30h1v1h-1zM31 30h1v1h-1zM37 30h1v1h-1zM2 31h1v1h-1zM7 31h1v1h-1zM8 31h1v1h-1zM11 31h1v1h-1zM12 31h1v1h-1zM14 31h1v1h-1zM16 31h1v1h-1zM22 31h1v1h-1zM30 31h1v1h-1zM10 32h1v1h-1zM13 32h1v1h-1zM21 32h1v1h-1zM36 32h1v1h-1zM3 33h1v1h-1zM12 33h1v1h-1zM15 33h1v1h-1zM25 33h1v1h-1zM26 33h1v1h-1zM34 33h1v1h-1zM7 34h1v1h-1zM8 34h1v1h-1zM17 34h1v1h-1zM18 34h1v1h-1zM25 34h1v1h-1zM29 34h1v1h-1zM31 34h1v1h-1zM37 34h1v1h-1zM38 34h1v1h-1zM9 35h1v1h-1zM14 35h1v1h-1zM18 35h1v1h-1zM35 35h1v1h-1zM37 35h1v1h-1zM8 36h1v1h-1zM12 36h1v1h-1zM24 36h1v1h-1zM27 36h1v1h-1zM31 36h1v1h-1zM33 36h1v1h-1zM35 36h1v1h-1zM36 36h1v1h-1zM10 37h1v1h-1zM13 37h1v1h-1zM16 37h1v1h-1zM19 37h1v1h-1zM23 37h1v1h-1zM25 37h1v1h-1zM26 37h1v1h-1zM1 38h1v1h-1zM4 38h1v1h-1zM7 38h1v1h-1zM15 38h1v1h-1zM19 38h1v1h-1zM21 38h1v1h-1zM23 38h1v1h-1zM24 38h1v1h-1zM26 38h1v1h-1zM28 38h1v1h-1zM31 38h1v1h-1z"/><path fill="#8a8aa0" d="M1 0h1v1h-1zM6 0h1v1h-1zM12 0h1v1h-1zM14 0h1v1h-1zM0 1h1v1h-1zM12 1h1v1h-1zM20 1h1v1h-1zM25 1h1v1h-1zM27 1h1v1h-1zM2 2h1v1h-1zM15 2h1v1h-1zM30 2h1v1h-1zM32 2h1v1h-1zM34 2h1v1h-1zM8 3h1v1h-1zM10 3h1v1h-1zM15 3h1v1h-1zM29 3h1v1h-1zM37 3h1v1h-1zM3 4h1v1h-1zM6 4h1v1h-1zM15 4h1v1h-1zM29 4h1v1h-1zM5 5h1v1h-1zM7 5h1v1h-1zM9 5h1v1h-1zM13 5h1v1h-1zM15 5h1v1h-1zM25 5h1v1h-1zM29 5h1v1h-1zM32 5h1v1h-1zM34 5h1v1h-1zM35 5h1v1h-1zM9 6h1v1h-1zM21 6h1v1h-1zM27 6h1v1h-1zM28 6h1v1h-1zM30 6h1v1h-1zM7 7h1v1h-1zM22 7h1v1h-1zM26 7h1v1h-1zM30 7h1v1h-1zM10 8h1v1h-1zM22 8h1v1h-1zM26 8h1v1h-1zM27 8h1v1h-1zM34 8h1v1h-1zM0 9h1v1h-1zM4 9h1v1h-1zM10 9h1v1h-1zM13 9h1v1h-1zM17 9h1v1h-1zM18 9h1v1h-1zM24 9h1v1h-1zM33 9h1v1h-1zM34 9h1v1h-1zM1 10h1v1h-1zM9 10h1v1h-1zM13 10h1v1h-1zM16 10h1v1h-1zM28 10h1v1h-1zM35 10h1v1h-1zM3 11h1v1h-1zM4 11h1v1h-1zM7 11h1v1h-1zM10 11h1v1h-1zM12 11h1v1h-1zM17 11h1v1h-1zM18 11h1v1h-1zM24 11h1v1h-1zM26 11h1v1h-1zM32 11h1v1h-1zM38 11h1v1h-1zM7 12h1v1h-1zM13 12h1v1h-1zM20 12h1v1h-1zM29 12h1v1h-1zM32 12h1v1h-1zM35 12h1v1h-1zM3 13h1v1h-1zM4 13h1v1h-1zM6 13h1v1h-1zM16 13h1v1h-1zM23 13h1v1h-1zM33 13h1v1h-1zM0 14h1v1h-1zM6 14h1v1h-1zM12 14h1v1h-1zM28 14h1v1h-1zM1 15h1v1h-1zM3 15h1v1h-1zM5 15h1v1h-1zM11 15h1v1h-1zM12 15h1v1h-1zM19 15h1v1h-1zM23 15h1v1h-1zM36 15h1v1h-1zM0 16h1v1h-1zM3 16h1v1h-1zM4 16h1v1h-1zM14 16h1v1h-1zM15 16h1v1h-1zM30 16h1v1h-1zM35 16h1v1h-1zM0 17h1v1h-1zM7 17h1v1h-1zM20 17h1v1h-1zM0 18h1v1h-1zM2 18h1v1h-1zM4 18h1v1h-1zM19 18h1v1h-1zM21 18h1v1h-1zM24 18h1v1h-1zM25 18h1v1h-1zM31 18h1v1h-1zM33 18h1v1h-1zM38 18h1v1h-1zM5 19h1v1h-1zM22 19h1v1h-1zM35 19h1v1h-1zM38 19h1v1h-1zM5 20h1v1h-1zM7 20h1v1h-1zM10 20h1v1h-1zM12 20h1v1h-1zM28 20h1v1h-1zM32 20h1v1h-1zM34 20h1v1h-1zM0 21h1v1h-1zM5 21h1v1h-1zM8 21h1v1h-1zM14 21h1v1h-1zM20 21h1v1h-1zM26 21h1v1h-1zM34 21h1v1h-1zM3 22h1v1h-1zM4 22h1v1h-1zM18 22h1v1h-1zM22 22h1v1h-1zM24 22h1v1h-1zM25 22h1v1h-1zM30 22h1v1h-1zM38 22h1v1h-1zM4 23h1v1h-1zM7 23h1v1h-1zM15 23h1v1h-1zM6 24h1v1h-1zM12 24h1v1h-1zM15 24h1v1h-1zM24 24h1v1h-1zM25 24h1v1h-1zM29 24h1v1h-1zM31 24h1v1h-1zM33 24h1v1h-1zM34 24h1v1h-1zM5 25h1v1h-1zM6 25h1v1h-1zM12 25h1v1h-1zM13 25h1v1h-1zM28 25h1v1h-1zM0 26h1v1h-1zM4 26h1v1h-1zM14 26h1v1h-1zM18 26h1v1h-1zM24 26h1v1h-1zM4 27h1v1h-1zM5 27h1v1h-1zM10 27h1v1h-1zM13 27h1v1h-1zM14 27h1v1h-1zM27 27h1v1h-1zM7 28h1v1h-1zM11 28h1v1h-1zM14 28h1v1h-1zM17 28h1v1h-1zM36 28h1v1h-1zM4 29h1v1h-1zM6 29h1v1h-1zM10 29h1v1h-1zM15 29h1v1h-1zM18 29h1v1h-1zM25 29h1v1h-1zM34 29h1v1h-1zM37 29h1v1h-1zM7 30h1v1h-1zM10 30h1v1h-1zM20 30h1v1h-1zM23 30h1v1h-1zM28 30h1v1h-1zM29 30h1v1h-1zM34 30h1v1h-1zM1 31h1v1h-1zM3 31h1v1h-1zM9 31h1v1h-1zM17 31h1v1h-1zM23 31h1v1h-1zM24 31h1v1h-1zM32 31h1v1h-1zM33 31h1v1h-1zM35 31h1v1h-1zM36 31h1v1h-1zM37 31h1v1h-1zM8 32h1v1h-1zM9 32h1v1h-1zM26 32h1v1h-1zM28 32h1v1h-1zM8 33h1v1h-1zM17 33h1v1h-1zM0 34h1v1h-1zM1 34h1v1h-1zM6 34h1v1h-1zM9 34h1v1h-1zM12 34h1v1h-1zM24 34h1v1h-1zM28 34h1v1h-1zM34 34h1v1h-1zM36 34h1v1h-1zM3 35h1v1h-1zM15 35h1v1h-1zM16 35h1v1h-1zM23 35h1v1h-1zM24 35h1v1h-1zM26 35h1v1h-1zM28 35h1v1h-1zM2 36h1v1h-1zM3 36h1v1h-1zM10 36h1v1h-1zM13 36h1v1h-1zM20 36h1v1h-1zM25 36h1v1h-1zM26 36h1v1h-1zM28 36h1v1h-1zM37 36h1v1h-1zM0 37h1v1h-1zM3 37h1v1h-1zM7 37h1v1h-1zM11 37h1v1h-1zM12 37h1v1h-1zM18 37h1v1h-1zM21 37h1v1h-1zM22 37h1v1h-1zM27 37h1v1h-1zM30 37h1v1h-1zM34 37h1v1h-1zM0 38h1v1h-1zM9 38h1v1h-1zM22 38h1v1h-1zM32 38h1v1h-1zM36 38h1v1h-1z"/><path fill="#40b0f0" d="M4 0h1v1h-1zM10 0h1v1h-1zM15 0h1v1h-1zM19 0h1v1h-1zM20 0h1v1h-1zM23 0h1v1h-1zM25 0h1v1h-1zM27 0h1v1h-1zM34 0h1v1h-1zM38 0h1v1h-1zM3 1h1v1h-1zM8 1h1v1h-1zM9 1h1v1h-1zM19 1h1v1h-1zM23 1h1v1h-1zM33 1h1v1h-1zM35 1h1v1h-1zM3 2h1v1h-1zM9 2h1v1h-1zM10 2h1v1h-1zM13 2h1v1h-1zM14 2h1v1h-1zM16 2h1v1h-1zM17 2h1v1h-1zM19 2h1v1h-1zM22 2h1v1h-1zM26 2h1v1h-1zM28 2h1v1h-1zM29 2h1v1h-1zM36 2h1v1h-1zM0 3h1v1h-1zM3 3h1v1h-1zM6 3h1v1h-1zM14 3h1v1h-1zM16 3h1v1h-1zM27 3h1v1h-1zM30 3h1v1h-1zM32 3h1v1h-1zM34 3h1v1h-1zM5 4h1v1h-1zM8 4h1v1h-1zM17 4h1v1h-1zM26 4h1v1h-1zM27 4h1v1h-1zM33 4h1v1h-1zM36 4h1v1h-1zM37 4h1v1h-1zM38 4h1v1h-1zM0 5h1v1h-1zM1 5h1v1h-1zM4 5h1v1h-1zM11 5h1v1h-1zM12 5h1v1h-1zM18 5h1v1h-1zM19 5h1v1h-1zM28 5h1v1h-1zM30 5h1v1h-1zM38 5h1v1h-1zM8 6h1v1h-1zM13 6h1v1h-1zM16 6h1v1h-1zM22 6h1v1h-1zM31 6h1v1h-1zM33 6h1v1h-1zM36 6h1v1h-1zM1 7h1v1h-1zM2 7h1v1h-1zM5 7h1v1h-1zM10 7h1v1h-1zM12 7h1v1h-1zM16 7h1v1h-1zM24 7h1v1h-1zM28 7h1v1h-1zM32 7h1v1h-1zM3 8h1v1h-1zM7 8h1v1h-1zM14 8h1v1h-1zM18 8h1v1h-1zM20 8h1v1h-1zM21 8h1v1h-1zM23 8h1v1h-1zM24 8h1v1h-1zM25 8h1v1h-1zM28 8h1v1h-1zM29 8h1v1h-1zM30 8h1v1h-1zM33 8h1v1h-1zM38 8h1v1h-1zM2 9h1v1h-1zM3 9h1v1h-1zM5 9h1v1h-1zM8 9h1v1h-1zM11 9h1v1h-1zM12 9h1v1h-1zM14 9h1v1h-1zM26 9h1v1h-1zM29 9h1v1h-1zM38 9h1v1h-1zM0 10h1v1h-1zM2 10h1v1h-1zM7 10h1v1h-1zM8 10h1v1h-1zM19 10h1v1h-1zM22 10h1v1h-1zM25 10h1v1h-1zM26 10h1v1h-1zM27 10h1v1h-1zM30 10h1v1h-1zM31 10h1v1h-1zM33 10h1v1h-1zM8 11h1v1h-1zM9 11h1v1h-1zM15 11h1v1h-1zM19 11h1v1h-1zM20 11h1v1h-1zM27 11h1v1h-1zM28 11h1v1h-1zM34 11h1v1h-1zM37 11h1v1h-1zM3 12h1v1h-1zM4 12h1v1h-1zM9 12h1v1h-1zM12 12h1v1h-1zM17 12h1v1h-1zM18 12h1v1h-1zM19 12h1v1h-1zM22 12h1v1h-1zM25 12h1v1h-1zM26 12h1v1h-1zM27 12h1v1h-1zM31 12h1v1h-1zM34 12h1v1h-1zM38 12h1v1h-1zM2 13h1v1h-1zM7 13h1v1h-1zM9 13h1v1h-1zM10 13h1v1h-1zM14 13h1v1h-1zM15 13h1v1h-1zM18 13h1v1h-1zM20 13h1v1h-1zM27 13h1v1h-1zM28 13h1v1h-1zM38 13h1v1h-1zM1 14h1v1h-1zM3 14h1v1h-1zM8 14h1v1h-1zM11 14h1v1h-1zM13 14h1v1h-1zM15 14h1v1h-1zM17 14h1v1h-1zM18 14h1v1h-1zM32 14h1v1h-1zM35 14h1v1h-1zM38 14h1v1h-1zM17 15h1v1h-1zM26 15h1v1h-1zM31 15h1v1h-1zM33 15h1v1h-1zM2 16h1v1h-1zM6 16h1v1h-1zM7 16h1v1h-1zM8 16h1v1h-1zM13 16h1v1h-1zM18 16h1v1h-1zM19 16h1v1h-1zM22 16h1v1h-1zM23 16h1v1h-1zM27 16h1v1h-1zM32 16h1v1h-1zM33 16h1v1h-1zM34 16h1v1h-1zM36 16h1v1h-1zM2 17h1v1h-1zM12 17h1v1h-1zM17 17h1v1h-1zM18 17h1v1h-1zM22 17h1v1h-1zM25 17h1v1h-1zM27 17h1v1h-1zM28 17h1v1h-1zM29 17h1v1h-1zM30 17h1v1h-1zM37 17h1v1h-1zM38 17h1v1h-1zM5 18h1v1h-1zM7 18h1v1h-1zM8 18h1v1h-1zM13 18h1v1h-1zM23 18h1v1h-1zM26 18h1v1h-1zM27 18h1v1h-1zM2 19h1v1h-1zM4 19h1v1h-1zM8 19h1v1h-1zM9 19h1v1h-1zM10 19h1v1h-1zM13 19h1v1h-1zM15 19h1v1h-1zM17 19h1v1h-1zM19 19h1v1h-1zM20 19h1v1h-1zM21 19h1v1h-1zM23 19h1v1h-1zM26 19h1v1h-1zM33 19h1v1h-1zM4 20h1v1h-1zM6 20h1v1h-1zM13 20h1v1h-1zM21 20h1v1h-1zM23 20h1v1h-1zM24 20h1v1h-1zM25 20h1v1h-1zM27 20h1v1h-1zM30 20h1v1h-1zM31 20h1v1h-1zM37 20h1v1h-1zM3 21h1v1h-1zM6 21h1v1h-1zM10 21h1v1h-1zM11 21h1v1h-1zM15 21h1v1h-1zM16 21h1v1h-1zM18 21h1v1h-1zM21 21h1v1h-1zM29 21h1v1h-1zM31 21h1v1h-1zM38 21h1v1h-1zM2 22h1v1h-1zM10 22h1v1h-1zM11 22h1v1h-1zM16 22h1v1h-1zM19 22h1v1h-1zM21 22h1v1h-1zM23 22h1v1h-1zM29 22h1v1h-1zM32 22h1v1h-1zM33 22h1v1h-1zM35 22h1v1h-1zM36 22h1v1h-1zM11 23h1v1h-1zM18 23h1v1h-1zM23 23h1v1h-1zM29 23h1v1h-1zM30 23h1v1h-1zM31 23h1v1h-1zM35 23h1v1h-1zM36 23h1v1h-1zM37 23h1v1h-1zM4 24h1v1h-1zM14 24h1v1h-1zM16 24h1v1h-1zM23 24h1v1h-1zM35 24h1v1h-1zM37 24h1v1h-1zM38 24h1v1h-1zM2 25h1v1h-1zM10 25h1v1h-1zM11 25h1v1h-1zM15 25h1v1h-1zM24 25h1v1h-1zM27 25h1v1h-1zM29 25h1v1h-1zM32 25h1v1h-1zM35 25h1v1h-1zM38 25h1v1h-1zM2 26h1v1h-1zM11 26h1v1h-1zM12 26h1v1h-1zM23 26h1v1h-1zM27 26h1v1h-1zM34 26h1v1h-1zM36 26h1v1h-1zM37 26h1v1h-1zM0 27h1v1h-1zM3 27h1v1h-1zM6 27h1v1h-1zM7 27h1v1h-1zM9 27h1v1h-1zM18 27h1v1h-1zM23 27h1v1h-1zM24 27h1v1h-1zM26 27h1v1h-1zM30 27h1v1h-1zM31 27h1v1h-1zM32 27h1v1h-1zM33 27h1v1h-1zM37 27h1v1h-1zM0 28h1v1h-1zM12 28h1v1h-1zM13 28h1v1h-1zM18 28h1v1h-1zM20 28h1v1h-1zM22 28h1v1h-1zM25 28h1v1h-1zM26 28h1v1h-1zM30 28h1v1h-1zM32 28h1v1h-1zM5 29h1v1h-1zM8 29h1v1h-1zM11 29h1v1h-1zM16 29h1v1h-1zM17 29h1v1h-1zM21 29h1v1h-1zM26 29h1v1h-1zM30 29h1v1h-1zM31 29h1v1h-1zM0 30h1v1h-1zM3 30h1v1h-1zM27 30h1v1h-1zM30 30h1v1h-1zM5 31h1v1h-1zM20 31h1v1h-1zM21 31h1v1h-1zM28 31h1v1h-1zM31 31h1v1h-1zM1 32h1v1h-1zM2 32h1v1h-1zM5 32h1v1h-1zM6 32h1v1h-1zM11 32h1v1h-1zM14 32h1v1h-1zM16 32h1v1h-1zM17 32h1v1h-1zM20 32h1v1h-1zM27 32h1v1h-1zM29 32h1v1h-1zM30 32h1v1h-1zM34 32h1v1h-1zM1 33h1v1h-1zM6 33h1v1h-1zM10 33h1v1h-1zM11 33h1v1h-1zM18 33h1v1h-1zM19 33h1v1h-1zM20 33h1v1h-1zM24 33h1v1h-1zM27 33h1v1h-1zM28 33h1v1h-1zM29 33h1v1h-1zM31 33h1v1h-1zM32 33h1v1h-1zM33 33h1v1h-1zM36 33h1v1h-1zM37 33h1v1h-1zM38 33h1v1h-1zM2 34h1v1h-1zM3 34h1v1h-1zM5 34h1v1h-1zM14 34h1v1h-1zM15 34h1v1h-1zM16 34h1v1h-1zM21 34h1v1h-1zM26 34h1v1h-1zM30 34h1v1h-1zM35 34h1v1h-1zM1 35h1v1h-1zM5 35h1v1h-1zM7 35h1v1h-1zM8 35h1v1h-1zM12 35h1v1h-1zM19 35h1v1h-1zM30 35h1v1h-1zM33 35h1v1h-1zM38 35h1v1h-1zM0 36h1v1h-1zM5 36h1v1h-1zM7 36h1v1h-1zM11 36h1v1h-1zM17 36h1v1h-1zM21 36h1v1h-1zM22 36h1v1h-1zM30 36h1v1h-1zM38 36h1v1h-1zM6 37h1v1h-1zM14 37h1v1h-1zM24 37h1v1h-1zM28 37h1v1h-1zM29 37h1v1h-1zM31 37h1v1h-1zM37 37h1v1h-1zM38 37h1v1h-1zM10 38h1v1h-1zM12 38h1v1h-1zM13 38h1v1h-1zM17 38h1v1h-1zM25 38h1v1h-1zM34 38h1v1h-1zM37 38h1v1h-1z"/><path fill="#6a7ae8" d="M5 0h1v1h-1zM7 0h1v1h-1zM8 0h1v1h-1zM11 0h1v1h-1zM13 0h1v1h-1zM22 0h1v1h-1zM29 0h1v1h-1zM31 0h1v1h-1zM35 0h1v1h-1zM37 0h1v1h-1zM10 1h1v1h-1zM11 1h1v1h-1zM24 1h1v1h-1zM29 1h1v1h-1zM31 1h1v1h-1zM32 1h1v1h-1zM0 2h1v1h-1zM1 2h1v1h-1zM8 2h1v1h-1zM18 2h1v1h-1zM35 2h1v1h-1zM38 2h1v1h-1zM2 3h1v1h-1zM5 3h1v1h-1zM7 3h1v1h-1zM19 3h1v1h-1zM20 3h1v1h-1zM23 3h1v1h-1zM24 3h1v1h-1zM9 4h1v1h-1zM14 4h1v1h-1zM18 4h1v1h-1zM22 4h1v1h-1zM23 4h1v1h-1zM25 4h1v1h-1zM6 5h1v1h-1zM14 5h1v1h-1zM16 5h1v1h-1zM21 5h1v1h-1zM27 5h1v1h-1zM37 5h1v1h-1zM4 6h1v1h-1zM6 6h1v1h-1zM11 6h1v1h-1zM12 6h1v1h-1zM15 6h1v1h-1zM17 6h1v1h-1zM25 6h1v1h-1zM29 6h1v1h-1zM32 6h1v1h-1zM4 7h1v1h-1zM14 7h1v1h-1zM15 7h1v1h-1zM19 7h1v1h-1zM25 7h1v1h-1zM27 7h1v1h-1zM29 7h1v1h-1zM35 7h1v1h-1zM37 7h1v1h-1zM1 8h1v1h-1zM4 8h1v1h-1zM12 8h1v1h-1zM16 8h1v1h-1zM31 8h1v1h-1zM35 8h1v1h-1zM36 8h1v1h-1zM37 8h1v1h-1zM6 9h1v1h-1zM9 9h1v1h-1zM15 9h1v1h-1zM16 9h1v1h-1zM19 9h1v1h-1zM20 9h1v1h-1zM21 9h1v1h-1zM22 9h1v1h-1zM23 9h1v1h-1zM30 9h1v1h-1zM36 9h1v1h-1zM37 9h1v1h-1zM3 10h1v1h-1zM21 10h1v1h-1zM34 10h1v1h-1zM36 10h1v1h-1zM37 10h1v1h-1zM1 11h1v1h-1zM2 11h1v1h-1zM13 11h1v1h-1zM14 11h1v1h-1zM30 11h1v1h-1zM33 11h1v1h-1zM0 12h1v1h-1zM1 12h1v1h-1zM5 12h1v1h-1zM8 12h1v1h-1zM21 12h1v1h-1zM33 12h1v1h-1zM1 13h1v1h-1zM12 13h1v1h-1zM13 13h1v1h-1zM17 13h1v1h-1zM21 13h1v1h-1zM25 13h1v1h-1zM26 13h1v1h-1zM31 13h1v1h-1zM32 13h1v1h-1zM34 13h1v1h-1zM36 13h1v1h-1zM4 14h1v1h-1zM7 14h1v1h-1zM9 14h1v1h-1zM10 14h1v1h-1zM16 14h1v1h-1zM21 14h1v1h-1zM23 14h1v1h-1zM27 14h1v1h-1zM37 14h1v1h-1zM8 15h1v1h-1zM18 15h1v1h-1zM22 15h1v1h-1zM27 15h1v1h-1zM30 15h1v1h-1zM32 15h1v1h-1zM37 15h1v1h-1zM1 16h1v1h-1zM10 16h1v1h-1zM11 16h1v1h-1zM16 16h1v1h-1zM17 16h1v1h-1zM24 16h1v1h-1zM26 16h1v1h-1zM31 16h1v1h-1zM38 16h1v1h-1zM3 17h1v1h-1zM4 17h1v1h-1zM6 17h1v1h-1zM9 17h1v1h-1zM10 17h1v1h-1zM13 17h1v1h-1zM36 17h1v1h-1zM1 18h1v1h-1zM3 18h1v1h-1zM6 18h1v1h-1zM10 18h1v1h-1zM11 18h1v1h-1zM14 18h1v1h-1zM28 18h1v1h-1zM29 18h1v1h-1zM35 18h1v1h-1zM36 18h1v1h-1zM1 19h1v1h-1zM11 19h1v1h-1zM18 19h1v1h-1zM30 19h1v1h-1zM31 19h1v1h-1zM36 19h1v1h-1zM37 19h1v1h-1zM0 20h1v1h-1zM1 20h1v1h-1zM2 20h1v1h-1zM9 20h1v1h-1zM11 20h1v1h-1zM16 20h1v1h-1zM20 20h1v1h-1zM35 20h1v1h-1zM38 20h1v1h-1zM7 21h1v1h-1zM22 21h1v1h-1zM27 21h1v1h-1zM7 22h1v1h-1zM15 22h1v1h-1zM17 22h1v1h-1zM26 22h1v1h-1zM34 22h1v1h-1zM6 23h1v1h-1zM9 23h1v1h-1zM16 23h1v1h-1zM19 23h1v1h-1zM21 23h1v1h-1zM24 23h1v1h-1zM25 23h1v1h-1zM32 23h1v1h-1zM33 23h1v1h-1zM34 23h1v1h-1zM2 24h1v1h-1zM7 24h1v1h-1zM8 24h1v1h-1zM13 24h1v1h-1zM17 24h1v1h-1zM20 24h1v1h-1zM28 24h1v1h-1zM9 25h1v1h-1zM21 25h1v1h-1zM23 25h1v1h-1zM31 25h1v1h-1zM33 25h1v1h-1zM34 25h1v1h-1zM5 26h1v1h-1zM7 26h1v1h-1zM8 26h1v1h-1zM10 26h1v1h-1zM13 26h1v1h-1zM16 26h1v1h-1zM19 26h1v1h-1zM28 26h1v1h-1zM29 26h1v1h-1zM2 27h1v1h-1zM8 27h1v1h-1zM11 27h1v1h-1zM20 27h1v1h-1zM28 27h1v1h-1zM35 27h1v1h-1zM3 28h1v1h-1zM6 28h1v1h-1zM15 28h1v1h-1zM16 28h1v1h-1zM27 28h1v1h-1zM29 28h1v1h-1zM31 28h1v1h-1zM33 28h1v1h-1zM0 29h1v1h-1zM2 29h1v1h-1zM7 29h1v1h-1zM9 29h1v1h-1zM13 29h1v1h-1zM22 29h1v1h-1zM38 29h1v1h-1zM15 30h1v1h-1zM16 30h1v1h-1zM17 30h1v1h-1zM24 30h1v1h-1zM25 30h1v1h-1zM35 30h1v1h-1zM36 30h1v1h-1zM38 30h1v1h-1zM0 31h1v1h-1zM4 31h1v1h-1zM13 31h1v1h-1zM15 31h1v1h-1zM18 31h1v1h-1zM25 31h1v1h-1zM26 31h1v1h-1zM27 31h1v1h-1zM29 31h1v1h-1zM34 31h1v1h-1zM0 32h1v1h-1zM12 32h1v1h-1zM22 32h1v1h-1zM23 32h1v1h-1zM25 32h1v1h-1zM38 32h1v1h-1zM9 33h1v1h-1zM14 33h1v1h-1zM23 33h1v1h-1zM10 34h1v1h-1zM13 34h1v1h-1zM19 34h1v1h-1zM20 34h1v1h-1zM27 34h1v1h-1zM32 34h1v1h-1zM33 34h1v1h-1zM2 35h1v1h-1zM6 35h1v1h-1zM11 35h1v1h-1zM13 35h1v1h-1zM21 35h1v1h-1zM22 35h1v1h-1zM25 35h1v1h-1zM27 35h1v1h-1zM29 35h1v1h-1zM1 36h1v1h-1zM4 36h1v1h-1zM6 36h1v1h-1zM9 36h1v1h-1zM14 36h1v1h-1zM15 36h1v1h-1zM16 36h1v1h-1zM18 36h1v1h-1zM19 36h1v1h-1zM23 36h1v1h-1zM29 36h1v1h-1zM32 36h1v1h-1zM34 36h1v1h-1zM4 37h1v1h-1zM5 37h1v1h-1zM32 37h1v1h-1zM33 37h1v1h-1zM36 37h1v1h-1zM3 38h1v1h-1zM8 38h1v1h-1zM14 38h1v1h-1zM16 38h1v1h-1zM20 38h1v1h-1zM27 38h1v1h-1zM29 38h1v1h-1zM33 38h1v1h-1z"/><path fill="#8a50c0" d="M3 0h1v1h-1zM21 0h1v1h-1zM24 0h1v1h-1zM1 1h1v1h-1zM5 1h1v1h-1zM16 1h1v1h-1zM34 1h1v1h-1zM38 1h1v1h-1zM4 2h1v1h-1zM4 3h1v1h-1zM18 3h1v1h-1zM35 3h1v1h-1zM0 4h1v1h-1zM11 4h1v1h-1zM34 4h1v1h-1zM8 5h1v1h-1zM17 5h1v1h-1zM3 6h1v1h-1zM6 7h1v1h-1zM9 7h1v1h-1zM20 7h1v1h-1zM36 7h1v1h-1zM0 8h1v1h-1zM8 8h1v1h-1zM13 8h1v1h-1zM7 9h1v1h-1zM32 9h1v1h-1zM5 10h1v1h-1zM6 10h1v1h-1zM15 10h1v1h-1zM17 10h1v1h-1zM5 11h1v1h-1zM25 11h1v1h-1zM31 11h1v1h-1zM2 12h1v1h-1zM28 12h1v1h-1zM30 12h1v1h-1zM5 13h1v1h-1zM19 13h1v1h-1zM14 14h1v1h-1zM20 14h1v1h-1zM29 14h1v1h-1zM31 14h1v1h-1zM36 14h1v1h-1zM0 15h1v1h-1zM15 15h1v1h-1zM21 15h1v1h-1zM28 15h1v1h-1zM38 15h1v1h-1zM12 16h1v1h-1zM28 16h1v1h-1zM1 17h1v1h-1zM8 17h1v1h-1zM11 17h1v1h-1zM21 17h1v1h-1zM31 17h1v1h-1zM16 18h1v1h-1zM17 18h1v1h-1zM12 19h1v1h-1zM24 19h1v1h-1zM32 19h1v1h-1zM14 20h1v1h-1zM36 20h1v1h-1zM4 21h1v1h-1zM1 22h1v1h-1zM5 22h1v1h-1zM12 22h1v1h-1zM28 22h1v1h-1zM5 23h1v1h-1zM10 23h1v1h-1zM13 23h1v1h-1zM5 24h1v1h-1zM10 24h1v1h-1zM11 24h1v1h-1zM18 24h1v1h-1zM19 24h1v1h-1zM30 24h1v1h-1zM32 24h1v1h-1zM1 25h1v1h-1zM19 25h1v1h-1zM22 25h1v1h-1zM25 25h1v1h-1zM37 25h1v1h-1zM17 26h1v1h-1zM1 27h1v1h-1zM19 27h1v1h-1zM22 27h1v1h-1zM36 27h1v1h-1zM1 28h1v1h-1zM5 28h1v1h-1zM9 28h1v1h-1zM37 28h1v1h-1zM3 29h1v1h-1zM19 29h1v1h-1zM29 29h1v1h-1zM2 30h1v1h-1zM5 30h1v1h-1zM6 30h1v1h-1zM9 30h1v1h-1zM12 30h1v1h-1zM13 30h1v1h-1zM18 30h1v1h-1zM21 30h1v1h-1zM26 30h1v1h-1zM32 30h1v1h-1zM6 31h1v1h-1zM10 31h1v1h-1zM19 31h1v1h-1zM38 31h1v1h-1zM7 32h1v1h-1zM18 32h1v1h-1zM0 33h1v1h-1zM4 33h1v1h-1zM5 33h1v1h-1zM7 33h1v1h-1zM13 33h1v1h-1zM23 34h1v1h-1zM0 35h1v1h-1zM4 35h1v1h-1zM17 35h1v1h-1zM20 35h1v1h-1zM31 35h1v1h-1zM36 35h1v1h-1zM17 37h1v1h-1zM11 38h1v1h-1zM30 38h1v1h-1z"/><path fill="#e08080" d="M16 0h1v1h-1zM6 1h1v1h-1zM26 1h1v1h-1zM28 1h1v1h-1zM37 1h1v1h-1zM21 2h1v1h-1zM33 3h1v1h-1zM4 4h1v1h-1zM28 4h1v1h-1zM36 5h1v1h-1zM19 6h1v1h-1zM38 6h1v1h-1zM11 8h1v1h-1zM4 10h1v1h-1zM18 10h1v1h-1zM24 10h1v1h-1zM6 11h1v1h-1zM21 11h1v1h-1zM34 14h1v1h-1zM2 15h1v1h-1zM14 15h1v1h-1zM21 16h1v1h-1zM16 19h1v1h-1zM27 19h1v1h-1zM13 21h1v1h-1zM19 21h1v1h-1zM37 22h1v1h-1zM1 23h1v1h-1zM17 25h1v1h-1zM20 26h1v1h-1zM10 28h1v1h-1zM21 28h1v1h-1zM33 30h1v1h-1zM19 32h1v1h-1zM31 32h1v1h-1zM32 32h1v1h-1zM21 33h1v1h-1zM11 34h1v1h-1zM22 34h1v1h-1zM1 37h1v1h-1zM15 37h1v1h-1zM20 37h1v1h-1zM35 37h1v1h-1zM2 38h1v1h-1zM6 38h1v1h-1z"/><path fill="#e0e060" d="M17 0h1v1h-1zM26 0h1v1h-1zM13 1h1v1h-1zM22 1h1v1h-1zM6 2h1v1h-1zM23 2h1v1h-1zM37 2h1v1h-1zM1 3h1v1h-1zM21 3h1v1h-1zM2 4h1v1h-1zM19 4h1v1h-1zM20 5h1v1h-1zM31 5h1v1h-1zM8 7h1v1h-1zM17 8h1v1h-1zM1 9h1v1h-1zM14 10h1v1h-1zM37 12h1v1h-1zM8 13h1v1h-1zM25 14h1v1h-1zM13 15h1v1h-1zM20 15h1v1h-1zM25 15h1v1h-1zM35 15h1v1h-1zM5 16h1v1h-1zM14 17h1v1h-1zM33 17h1v1h-1zM3 19h1v1h-1zM7 19h1v1h-1zM18 20h1v1h-1zM12 21h1v1h-1zM24 21h1v1h-1zM9 22h1v1h-1zM3 23h1v1h-1zM0 24h1v1h-1zM9 24h1v1h-1zM36 25h1v1h-1zM1 26h1v1h-1zM6 26h1v1h-1zM9 26h1v1h-1zM25 26h1v1h-1zM38 26h1v1h-1zM8 28h1v1h-1zM19 28h1v1h-1zM34 28h1v1h-1zM12 29h1v1h-1zM14 29h1v1h-1zM23 29h1v1h-1zM27 29h1v1h-1zM32 29h1v1h-1zM8 30h1v1h-1zM22 30h1v1h-1zM3 32h1v1h-1zM4 32h1v1h-1zM24 32h1v1h-1zM33 32h1v1h-1zM37 32h1v1h-1zM22 33h1v1h-1zM35 33h1v1h-1zM2 37h1v1h-1zM8 37h1v1h-1zM9 37h1v1h-1zM5 38h1v1h-1zM35 38h1v1h-1zM38 38h1v1h-1z"/><path fill="#50c8c8" d="M18 0h1v1h-1zM33 0h1v1h-1zM30 1h1v1h-1zM5 2h1v1h-1zM24 2h1v1h-1zM27 2h1v1h-1zM9 3h1v1h-1zM11 3h1v1h-1zM22 3h1v1h-1zM28 3h1v1h-1zM7 4h1v1h-1zM12 4h1v1h-1zM20 4h1v1h-1zM21 4h1v1h-1zM26 6h1v1h-1zM37 6h1v1h-1zM17 7h1v1h-1zM31 7h1v1h-1zM9 8h1v1h-1zM15 8h1v1h-1zM28 9h1v1h-1zM31 9h1v1h-1zM10 10h1v1h-1zM23 11h1v1h-1zM35 11h1v1h-1zM10 12h1v1h-1zM23 12h1v1h-1zM24 13h1v1h-1zM19 14h1v1h-1zM26 14h1v1h-1zM16 15h1v1h-1zM37 18h1v1h-1zM28 19h1v1h-1zM29 20h1v1h-1zM33 20h1v1h-1zM0 23h1v1h-1zM2 23h1v1h-1zM8 23h1v1h-1zM28 23h1v1h-1zM1 24h1v1h-1zM3 24h1v1h-1zM4 25h1v1h-1zM14 25h1v1h-1zM16 25h1v1h-1zM26 26h1v1h-1zM31 26h1v1h-1zM12 27h1v1h-1zM21 27h1v1h-1zM2 28h1v1h-1zM23 28h1v1h-1zM28 28h1v1h-1zM19 30h1v1h-1zM15 32h1v1h-1zM35 32h1v1h-1zM2 33h1v1h-1zM16 33h1v1h-1zM30 33h1v1h-1zM4 34h1v1h-1zM10 35h1v1h-1zM32 35h1v1h-1zM34 35h1v1h-1zM18 38h1v1h-1z"/></pattern><pattern id="pb" patternUnits="userSpaceOnUse" width="31" height="31"><path fill="#4266cf" d="M3 0h1v1h-1zM6 0h1v1h-1zM11 0h1v1h-1zM13 0h1v1h-1zM20 0h1v1h-1zM28 0h1v1h-1zM30 0h1v1h-1zM6 1h1v1h-1zM10 1h1v1h-1zM15 1h1v1h-1zM16 1h1v1h-1zM18 1h1v1h-1zM19 1h1v1h-1zM20 1h1v1h-1zM23 1h1v1h-1zM24 1h1v1h-1zM28 1h1v1h-1zM0 2h1v1h-1zM2 2h1v1h-1zM4 2h1v1h-1zM8 2h1v1h-1zM12 2h1v1h-1zM15 2h1v1h-1zM18 2h1v1h-1zM19 2h1v1h-1zM27 2h1v1h-1zM28 2h1v1h-1zM0 3h1v1h-1zM2 3h1v1h-1zM11 3h1v1h-1zM15 3h1v1h-1zM20 3h1v1h-1zM21 3h1v1h-1zM22 3h1v1h-1zM5 4h1v1h-1zM15 4h1v1h-1zM16 4h1v1h-1zM22 4h1v1h-1zM23 4h1v1h-1zM26 4h1v1h-1zM29 4h1v1h-1zM1 5h1v1h-1zM2 5h1v1h-1zM7 5h1v1h-1zM11 5h1v1h-1zM16 5h1v1h-1zM17 5h1v1h-1zM19 5h1v1h-1zM26 5h1v1h-1zM29 5h1v1h-1zM1 6h1v1h-1zM2 6h1v1h-1zM8 6h1v1h-1zM15 6h1v1h-1zM20 6h1v1h-1zM21 6h1v1h-1zM23 6h1v1h-1zM28 6h1v1h-1zM30 6h1v1h-1zM1 7h1v1h-1zM2 7h1v1h-1zM5 7h1v1h-1zM6 7h1v1h-1zM7 7h1v1h-1zM8 7h1v1h-1zM19 7h1v1h-1zM24 7h1v1h-1zM25 7h1v1h-1zM0 8h1v1h-1zM1 8h1v1h-1zM5 8h1v1h-1zM8 8h1v1h-1zM9 8h1v1h-1zM10 8h1v1h-1zM14 8h1v1h-1zM15 8h1v1h-1zM16 8h1v1h-1zM23 8h1v1h-1zM24 8h1v1h-1zM25 8h1v1h-1zM26 8h1v1h-1zM0 9h1v1h-1zM4 9h1v1h-1zM6 9h1v1h-1zM8 9h1v1h-1zM12 9h1v1h-1zM13 9h1v1h-1zM14 9h1v1h-1zM19 9h1v1h-1zM20 9h1v1h-1zM21 9h1v1h-1zM23 9h1v1h-1zM26 9h1v1h-1zM29 9h1v1h-1zM30 9h1v1h-1zM3 10h1v1h-1zM5 10h1v1h-1zM6 10h1v1h-1zM7 10h1v1h-1zM14 10h1v1h-1zM16 10h1v1h-1zM18 10h1v1h-1zM21 10h1v1h-1zM22 10h1v1h-1zM25 10h1v1h-1zM29 10h1v1h-1zM1 11h1v1h-1zM2 11h1v1h-1zM4 11h1v1h-1zM10 11h1v1h-1zM19 11h1v1h-1zM20 11h1v1h-1zM21 11h1v1h-1zM26 11h1v1h-1zM1 12h1v1h-1zM6 12h1v1h-1zM22 12h1v1h-1zM26 12h1v1h-1zM27 12h1v1h-1zM29 12h1v1h-1zM5 13h1v1h-1zM7 13h1v1h-1zM8 13h1v1h-1zM14 13h1v1h-1zM15 13h1v1h-1zM16 13h1v1h-1zM18 13h1v1h-1zM21 13h1v1h-1zM27 13h1v1h-1zM12 14h1v1h-1zM17 14h1v1h-1zM24 14h1v1h-1zM25 14h1v1h-1zM26 14h1v1h-1zM29 14h1v1h-1zM0 15h1v1h-1zM12 15h1v1h-1zM13 15h1v1h-1zM15 15h1v1h-1zM20 15h1v1h-1zM21 15h1v1h-1zM22 15h1v1h-1zM23 15h1v1h-1zM24 15h1v1h-1zM30 15h1v1h-1zM5 16h1v1h-1zM6 16h1v1h-1zM9 16h1v1h-1zM15 16h1v1h-1zM16 16h1v1h-1zM19 16h1v1h-1zM20 16h1v1h-1zM24 16h1v1h-1zM30 16h1v1h-1zM3 17h1v1h-1zM8 17h1v1h-1zM13 17h1v1h-1zM14 17h1v1h-1zM16 17h1v1h-1zM23 17h1v1h-1zM25 17h1v1h-1zM28 17h1v1h-1zM0 18h1v1h-1zM3 18h1v1h-1zM5 18h1v1h-1zM8 18h1v1h-1zM9 18h1v1h-1zM17 18h1v1h-1zM26 18h1v1h-1zM28 18h1v1h-1zM0 19h1v1h-1zM3 19h1v1h-1zM7 19h1v1h-1zM8 19h1v1h-1zM10 19h1v1h-1zM11 19h1v1h-1zM15 19h1v1h-1zM16 19h1v1h-1zM20 19h1v1h-1zM22 19h1v1h-1zM25 19h1v1h-1zM26 19h1v1h-1zM28 19h1v1h-1zM29 19h1v1h-1zM4 20h1v1h-1zM9 20h1v1h-1zM10 20h1v1h-1zM14 20h1v1h-1zM18 20h1v1h-1zM26 20h1v1h-1zM2 21h1v1h-1zM5 21h1v1h-1zM13 21h1v1h-1zM16 21h1v1h-1zM23 21h1v1h-1zM24 21h1v1h-1zM25 21h1v1h-1zM27 21h1v1h-1zM30 21h1v1h-1zM6 22h1v1h-1zM8 22h1v1h-1zM9 22h1v1h-1zM13 22h1v1h-1zM14 22h1v1h-1zM17 22h1v1h-1zM28 22h1v1h-1zM29 22h1v1h-1zM3 23h1v1h-1zM6 23h1v1h-1zM9 23h1v1h-1zM13 23h1v1h-1zM15 23h1v1h-1zM20 23h1v1h-1zM21 23h1v1h-1zM22 23h1v1h-1zM26 23h1v1h-1zM28 23h1v1h-1zM30 23h1v1h-1zM9 24h1v1h-1zM11 24h1v1h-1zM15 24h1v1h-1zM17 24h1v1h-1zM3 25h1v1h-1zM4 25h1v1h-1zM6 25h1v1h-1zM7 25h1v1h-1zM11 25h1v1h-1zM15 25h1v1h-1zM18 25h1v1h-1zM19 25h1v1h-1zM23 25h1v1h-1zM24 25h1v1h-1zM26 25h1v1h-1zM5 26h1v1h-1zM8 26h1v1h-1zM9 26h1v1h-1zM10 26h1v1h-1zM12 26h1v1h-1zM13 26h1v1h-1zM15 26h1v1h-1zM16 26h1v1h-1zM18 26h1v1h-1zM19 26h1v1h-1zM20 26h1v1h-1zM21 26h1v1h-1zM26 26h1v1h-1zM30 26h1v1h-1zM0 27h1v1h-1zM3 27h1v1h-1zM6 27h1v1h-1zM9 27h1v1h-1zM16 27h1v1h-1zM17 27h1v1h-1zM21 27h1v1h-1zM23 27h1v1h-1zM25 27h1v1h-1zM0 28h1v1h-1zM3 28h1v1h-1zM5 28h1v1h-1zM7 28h1v1h-1zM8 28h1v1h-1zM9 28h1v1h-1zM15 28h1v1h-1zM17 28h1v1h-1zM18 28h1v1h-1zM19 28h1v1h-1zM20 28h1v1h-1zM24 28h1v1h-1zM25 28h1v1h-1zM28 28h1v1h-1zM29 28h1v1h-1zM1 29h1v1h-1zM3 29h1v1h-1zM20 29h1v1h-1zM23 29h1v1h-1zM25 29h1v1h-1zM3 30h1v1h-1zM9 30h1v1h-1zM13 30h1v1h-1zM15 30h1v1h-1zM16 30h1v1h-1zM22 30h1v1h-1zM23 30h1v1h-1zM26 30h1v1h-1z"/><path fill="#4f6dd4" d="M0 0h1v1h-1zM4 0h1v1h-1zM16 0h1v1h-1zM18 0h1v1h-1zM22 0h1v1h-1zM24 0h1v1h-1zM26 0h1v1h-1zM27 0h1v1h-1zM29 0h1v1h-1zM2 1h1v1h-1zM12 1h1v1h-1zM29 1h1v1h-1zM1 2h1v1h-1zM10 2h1v1h-1zM11 2h1v1h-1zM13 2h1v1h-1zM17 2h1v1h-1zM20 2h1v1h-1zM22 2h1v1h-1zM24 2h1v1h-1zM25 2h1v1h-1zM29 2h1v1h-1zM30 2h1v1h-1zM1 3h1v1h-1zM4 3h1v1h-1zM9 3h1v1h-1zM12 3h1v1h-1zM16 3h1v1h-1zM27 3h1v1h-1zM28 3h1v1h-1zM2 4h1v1h-1zM4 4h1v1h-1zM6 4h1v1h-1zM7 4h1v1h-1zM8 4h1v1h-1zM9 4h1v1h-1zM10 4h1v1h-1zM11 4h1v1h-1zM12 4h1v1h-1zM13 4h1v1h-1zM18 4h1v1h-1zM19 4h1v1h-1zM21 4h1v1h-1zM27 4h1v1h-1zM28 4h1v1h-1zM5 5h1v1h-1zM6 5h1v1h-1zM15 5h1v1h-1zM22 5h1v1h-1zM28 5h1v1h-1zM3 6h1v1h-1zM4 6h1v1h-1zM5 6h1v1h-1zM6 6h1v1h-1zM10 6h1v1h-1zM13 6h1v1h-1zM16 6h1v1h-1zM19 6h1v1h-1zM22 6h1v1h-1zM24 6h1v1h-1zM27 6h1v1h-1zM3 7h1v1h-1zM9 7h1v1h-1zM10 7h1v1h-1zM12 7h1v1h-1zM13 7h1v1h-1zM14 7h1v1h-1zM17 7h1v1h-1zM21 7h1v1h-1zM23 7h1v1h-1zM27 7h1v1h-1zM29 7h1v1h-1zM30 7h1v1h-1zM2 8h1v1h-1zM4 8h1v1h-1zM7 8h1v1h-1zM12 8h1v1h-1zM13 8h1v1h-1zM17 8h1v1h-1zM27 8h1v1h-1zM30 8h1v1h-1zM3 9h1v1h-1zM10 9h1v1h-1zM25 9h1v1h-1zM27 9h1v1h-1zM2 10h1v1h-1zM8 10h1v1h-1zM9 10h1v1h-1zM10 10h1v1h-1zM13 10h1v1h-1zM17 10h1v1h-1zM28 10h1v1h-1zM0 11h1v1h-1zM3 11h1v1h-1zM5 11h1v1h-1zM6 11h1v1h-1zM7 11h1v1h-1zM8 11h1v1h-1zM11 11h1v1h-1zM16 11h1v1h-1zM18 11h1v1h-1zM23 11h1v1h-1zM24 11h1v1h-1zM25 11h1v1h-1zM0 12h1v1h-1zM4 12h1v1h-1zM5 12h1v1h-1zM8 12h1v1h-1zM10 12h1v1h-1zM11 12h1v1h-1zM12 12h1v1h-1zM15 12h1v1h-1zM17 12h1v1h-1zM20 12h1v1h-1zM21 12h1v1h-1zM25 12h1v1h-1zM0 13h1v1h-1zM1 13h1v1h-1zM2 13h1v1h-1zM3 13h1v1h-1zM4 13h1v1h-1zM19 13h1v1h-1zM22 13h1v1h-1zM25 13h1v1h-1zM26 13h1v1h-1zM0 14h1v1h-1zM2 14h1v1h-1zM4 14h1v1h-1zM7 14h1v1h-1zM8 14h1v1h-1zM10 14h1v1h-1zM15 14h1v1h-1zM18 14h1v1h-1zM21 14h1v1h-1zM27 14h1v1h-1zM28 14h1v1h-1zM30 14h1v1h-1zM3 15h1v1h-1zM4 15h1v1h-1zM5 15h1v1h-1zM7 15h1v1h-1zM14 15h1v1h-1zM16 15h1v1h-1zM25 15h1v1h-1zM26 15h1v1h-1zM28 15h1v1h-1zM3 16h1v1h-1zM4 16h1v1h-1zM7 16h1v1h-1zM14 16h1v1h-1zM21 16h1v1h-1zM22 16h1v1h-1zM26 16h1v1h-1zM28 16h1v1h-1zM29 16h1v1h-1zM4 17h1v1h-1zM9 17h1v1h-1zM11 17h1v1h-1zM17 17h1v1h-1zM18 17h1v1h-1zM19 17h1v1h-1zM26 17h1v1h-1zM29 17h1v1h-1zM7 18h1v1h-1zM12 18h1v1h-1zM16 18h1v1h-1zM18 18h1v1h-1zM23 18h1v1h-1zM24 18h1v1h-1zM29 18h1v1h-1zM30 18h1v1h-1zM2 19h1v1h-1zM4 19h1v1h-1zM6 19h1v1h-1zM19 19h1v1h-1zM21 19h1v1h-1zM30 19h1v1h-1zM1 20h1v1h-1zM2 20h1v1h-1zM3 20h1v1h-1zM5 20h1v1h-1zM7 20h1v1h-1zM12 20h1v1h-1zM17 20h1v1h-1zM21 20h1v1h-1zM22 20h1v1h-1zM25 20h1v1h-1zM27 20h1v1h-1zM28 20h1v1h-1zM0 21h1v1h-1zM1 21h1v1h-1zM8 21h1v1h-1zM10 21h1v1h-1zM14 21h1v1h-1zM17 21h1v1h-1zM18 21h1v1h-1zM26 21h1v1h-1zM28 21h1v1h-1zM1 22h1v1h-1zM3 22h1v1h-1zM5 22h1v1h-1zM10 22h1v1h-1zM12 22h1v1h-1zM19 22h1v1h-1zM20 22h1v1h-1zM21 22h1v1h-1zM22 22h1v1h-1zM2 23h1v1h-1zM5 23h1v1h-1zM7 23h1v1h-1zM8 23h1v1h-1zM14 23h1v1h-1zM25 23h1v1h-1zM29 23h1v1h-1zM1 24h1v1h-1zM12 24h1v1h-1zM13 24h1v1h-1zM16 24h1v1h-1zM19 24h1v1h-1zM21 24h1v1h-1zM23 24h1v1h-1zM24 24h1v1h-1zM28 24h1v1h-1zM0 25h1v1h-1zM1 25h1v1h-1zM2 25h1v1h-1zM5 25h1v1h-1zM16 25h1v1h-1zM17 25h1v1h-1zM25 25h1v1h-1zM27 25h1v1h-1zM28 25h1v1h-1zM29 25h1v1h-1zM0 26h1v1h-1zM4 26h1v1h-1zM14 26h1v1h-1zM17 26h1v1h-1zM22 26h1v1h-1zM23 26h1v1h-1zM24 26h1v1h-1zM25 26h1v1h-1zM29 26h1v1h-1zM2 27h1v1h-1zM7 27h1v1h-1zM8 27h1v1h-1zM10 27h1v1h-1zM15 27h1v1h-1zM24 27h1v1h-1zM29 27h1v1h-1zM1 28h1v1h-1zM4 28h1v1h-1zM12 28h1v1h-1zM16 28h1v1h-1zM21 28h1v1h-1zM27 28h1v1h-1zM30 28h1v1h-1zM5 29h1v1h-1zM6 29h1v1h-1zM8 29h1v1h-1zM9 29h1v1h-1zM10 29h1v1h-1zM14 29h1v1h-1zM21 29h1v1h-1zM22 29h1v1h-1zM27 29h1v1h-1zM28 29h1v1h-1zM5 30h1v1h-1zM7 30h1v1h-1zM8 30h1v1h-1zM10 30h1v1h-1zM11 30h1v1h-1zM12 30h1v1h-1zM14 30h1v1h-1zM17 30h1v1h-1zM18 30h1v1h-1zM19 30h1v1h-1zM20 30h1v1h-1zM21 30h1v1h-1zM24 30h1v1h-1zM27 30h1v1h-1zM28 30h1v1h-1zM30 30h1v1h-1z"/><path fill="#5a74da" d="M9 0h1v1h-1zM10 0h1v1h-1zM15 0h1v1h-1zM17 0h1v1h-1zM1 1h1v1h-1zM7 1h1v1h-1zM8 1h1v1h-1zM9 1h1v1h-1zM13 1h1v1h-1zM22 1h1v1h-1zM26 1h1v1h-1zM27 1h1v1h-1zM7 2h1v1h-1zM9 2h1v1h-1zM21 2h1v1h-1zM6 3h1v1h-1zM7 3h1v1h-1zM10 3h1v1h-1zM13 3h1v1h-1zM23 3h1v1h-1zM24 3h1v1h-1zM25 3h1v1h-1zM30 3h1v1h-1zM0 4h1v1h-1zM1 4h1v1h-1zM17 4h1v1h-1zM20 4h1v1h-1zM3 5h1v1h-1zM12 5h1v1h-1zM14 5h1v1h-1zM18 5h1v1h-1zM21 5h1v1h-1zM25 5h1v1h-1zM27 5h1v1h-1zM0 6h1v1h-1zM9 6h1v1h-1zM14 6h1v1h-1zM17 6h1v1h-1zM18 6h1v1h-1zM25 6h1v1h-1zM29 6h1v1h-1zM22 7h1v1h-1zM28 7h1v1h-1zM3 8h1v1h-1zM6 8h1v1h-1zM20 8h1v1h-1zM22 8h1v1h-1zM29 8h1v1h-1zM9 9h1v1h-1zM17 9h1v1h-1zM18 9h1v1h-1zM24 9h1v1h-1zM0 10h1v1h-1zM1 10h1v1h-1zM11 10h1v1h-1zM19 10h1v1h-1zM24 10h1v1h-1zM26 10h1v1h-1zM30 10h1v1h-1zM27 11h1v1h-1zM3 12h1v1h-1zM13 12h1v1h-1zM16 12h1v1h-1zM9 13h1v1h-1zM10 13h1v1h-1zM12 13h1v1h-1zM24 13h1v1h-1zM30 13h1v1h-1zM1 14h1v1h-1zM6 14h1v1h-1zM14 14h1v1h-1zM19 14h1v1h-1zM23 14h1v1h-1zM6 15h1v1h-1zM10 15h1v1h-1zM27 15h1v1h-1zM29 15h1v1h-1zM0 16h1v1h-1zM1 16h1v1h-1zM2 16h1v1h-1zM8 16h1v1h-1zM17 16h1v1h-1zM23 16h1v1h-1zM1 17h1v1h-1zM5 17h1v1h-1zM30 17h1v1h-1zM1 18h1v1h-1zM2 18h1v1h-1zM6 18h1v1h-1zM20 18h1v1h-1zM21 18h1v1h-1zM5 19h1v1h-1zM9 19h1v1h-1zM18 19h1v1h-1zM23 19h1v1h-1zM27 19h1v1h-1zM6 20h1v1h-1zM11 20h1v1h-1zM15 20h1v1h-1zM16 20h1v1h-1zM19 20h1v1h-1zM23 20h1v1h-1zM24 20h1v1h-1zM3 21h1v1h-1zM4 21h1v1h-1zM6 21h1v1h-1zM11 21h1v1h-1zM19 21h1v1h-1zM20 21h1v1h-1zM22 21h1v1h-1zM29 21h1v1h-1zM4 22h1v1h-1zM15 22h1v1h-1zM26 22h1v1h-1zM27 22h1v1h-1zM0 23h1v1h-1zM1 23h1v1h-1zM16 23h1v1h-1zM4 24h1v1h-1zM20 24h1v1h-1zM25 24h1v1h-1zM26 24h1v1h-1zM30 24h1v1h-1zM8 25h1v1h-1zM9 25h1v1h-1zM10 25h1v1h-1zM12 25h1v1h-1zM14 25h1v1h-1zM21 25h1v1h-1zM1 26h1v1h-1zM2 26h1v1h-1zM11 26h1v1h-1zM28 26h1v1h-1zM11 27h1v1h-1zM12 27h1v1h-1zM13 27h1v1h-1zM14 27h1v1h-1zM2 28h1v1h-1zM10 28h1v1h-1zM11 28h1v1h-1zM23 28h1v1h-1zM26 28h1v1h-1zM0 29h1v1h-1zM4 29h1v1h-1zM15 29h1v1h-1zM16 29h1v1h-1zM26 29h1v1h-1zM29 29h1v1h-1zM30 29h1v1h-1zM4 30h1v1h-1zM29 30h1v1h-1z"/><path fill="#6a72dc" d="M7 0h1v1h-1zM8 0h1v1h-1zM14 0h1v1h-1zM19 0h1v1h-1zM23 0h1v1h-1zM25 0h1v1h-1zM0 1h1v1h-1zM14 1h1v1h-1zM6 2h1v1h-1zM14 2h1v1h-1zM16 2h1v1h-1zM5 3h1v1h-1zM8 3h1v1h-1zM14 3h1v1h-1zM17 3h1v1h-1zM18 3h1v1h-1zM26 3h1v1h-1zM3 4h1v1h-1zM24 4h1v1h-1zM0 5h1v1h-1zM4 5h1v1h-1zM8 5h1v1h-1zM9 5h1v1h-1zM10 5h1v1h-1zM20 5h1v1h-1zM7 6h1v1h-1zM0 7h1v1h-1zM11 7h1v1h-1zM15 7h1v1h-1zM11 8h1v1h-1zM18 8h1v1h-1zM19 8h1v1h-1zM28 8h1v1h-1zM2 9h1v1h-1zM7 9h1v1h-1zM15 9h1v1h-1zM4 10h1v1h-1zM15 10h1v1h-1zM20 10h1v1h-1zM23 10h1v1h-1zM27 10h1v1h-1zM9 11h1v1h-1zM13 11h1v1h-1zM15 11h1v1h-1zM17 11h1v1h-1zM22 11h1v1h-1zM28 11h1v1h-1zM29 11h1v1h-1zM2 12h1v1h-1zM7 12h1v1h-1zM9 12h1v1h-1zM18 12h1v1h-1zM19 12h1v1h-1zM24 12h1v1h-1zM30 12h1v1h-1zM11 13h1v1h-1zM17 13h1v1h-1zM20 13h1v1h-1zM29 13h1v1h-1zM3 14h1v1h-1zM9 14h1v1h-1zM16 14h1v1h-1zM20 14h1v1h-1zM2 15h1v1h-1zM11 15h1v1h-1zM18 15h1v1h-1zM10 16h1v1h-1zM11 16h1v1h-1zM12 16h1v1h-1zM13 16h1v1h-1zM25 16h1v1h-1zM2 17h1v1h-1zM22 17h1v1h-1zM24 17h1v1h-1zM11 18h1v1h-1zM13 18h1v1h-1zM22 18h1v1h-1zM25 18h1v1h-1zM27 18h1v1h-1zM12 19h1v1h-1zM13 19h1v1h-1zM17 19h1v1h-1zM8 20h1v1h-1zM20 20h1v1h-1zM12 21h1v1h-1zM0 22h1v1h-1zM7 22h1v1h-1zM16 22h1v1h-1zM18 22h1v1h-1zM30 22h1v1h-1zM12 23h1v1h-1zM17 23h1v1h-1zM18 23h1v1h-1zM19 23h1v1h-1zM23 23h1v1h-1zM24 23h1v1h-1zM27 23h1v1h-1zM2 24h1v1h-1zM3 24h1v1h-1zM6 24h1v1h-1zM10 24h1v1h-1zM22 24h1v1h-1zM29 24h1v1h-1zM13 25h1v1h-1zM20 25h1v1h-1zM3 26h1v1h-1zM7 26h1v1h-1zM27 26h1v1h-1zM4 27h1v1h-1zM18 27h1v1h-1zM19 27h1v1h-1zM22 27h1v1h-1zM26 27h1v1h-1zM27 27h1v1h-1zM28 27h1v1h-1zM6 28h1v1h-1zM13 28h1v1h-1zM14 28h1v1h-1zM2 29h1v1h-1zM11 29h1v1h-1zM13 29h1v1h-1zM19 29h1v1h-1zM24 29h1v1h-1zM2 30h1v1h-1z"/><path fill="#7a84e4" d="M2 0h1v1h-1zM5 0h1v1h-1zM21 0h1v1h-1zM4 1h1v1h-1zM11 1h1v1h-1zM17 1h1v1h-1zM25 1h1v1h-1zM30 1h1v1h-1zM23 2h1v1h-1zM3 3h1v1h-1zM29 3h1v1h-1zM25 4h1v1h-1zM30 4h1v1h-1zM23 5h1v1h-1zM24 5h1v1h-1zM30 5h1v1h-1zM11 6h1v1h-1zM26 6h1v1h-1zM4 7h1v1h-1zM16 7h1v1h-1zM18 7h1v1h-1zM26 7h1v1h-1zM21 8h1v1h-1zM11 9h1v1h-1zM28 9h1v1h-1zM12 10h1v1h-1zM12 11h1v1h-1zM14 11h1v1h-1zM30 11h1v1h-1zM14 12h1v1h-1zM23 12h1v1h-1zM6 13h1v1h-1zM13 13h1v1h-1zM23 13h1v1h-1zM5 14h1v1h-1zM13 14h1v1h-1zM1 15h1v1h-1zM27 16h1v1h-1zM7 17h1v1h-1zM15 17h1v1h-1zM20 17h1v1h-1zM21 17h1v1h-1zM27 17h1v1h-1zM4 18h1v1h-1zM15 18h1v1h-1zM1 19h1v1h-1zM14 19h1v1h-1zM13 20h1v1h-1zM29 20h1v1h-1zM9 21h1v1h-1zM21 21h1v1h-1zM11 22h1v1h-1zM24 22h1v1h-1zM25 22h1v1h-1zM4 23h1v1h-1zM11 23h1v1h-1zM7 24h1v1h-1zM27 24h1v1h-1zM22 25h1v1h-1zM30 25h1v1h-1zM1 27h1v1h-1zM5 27h1v1h-1zM20 27h1v1h-1zM30 27h1v1h-1zM22 28h1v1h-1zM7 29h1v1h-1zM6 30h1v1h-1z"/><path fill="#3a5cc8" d="M1 0h1v1h-1zM12 0h1v1h-1zM3 1h1v1h-1zM5 1h1v1h-1zM21 1h1v1h-1zM3 2h1v1h-1zM5 2h1v1h-1zM26 2h1v1h-1zM19 3h1v1h-1zM14 4h1v1h-1zM13 5h1v1h-1zM12 6h1v1h-1zM20 7h1v1h-1zM1 9h1v1h-1zM5 9h1v1h-1zM16 9h1v1h-1zM22 9h1v1h-1zM28 12h1v1h-1zM28 13h1v1h-1zM11 14h1v1h-1zM22 14h1v1h-1zM8 15h1v1h-1zM9 15h1v1h-1zM17 15h1v1h-1zM19 15h1v1h-1zM18 16h1v1h-1zM0 17h1v1h-1zM6 17h1v1h-1zM10 17h1v1h-1zM12 17h1v1h-1zM10 18h1v1h-1zM14 18h1v1h-1zM19 18h1v1h-1zM24 19h1v1h-1zM0 20h1v1h-1zM30 20h1v1h-1zM7 21h1v1h-1zM15 21h1v1h-1zM2 22h1v1h-1zM23 22h1v1h-1zM10 23h1v1h-1zM0 24h1v1h-1zM5 24h1v1h-1zM8 24h1v1h-1zM14 24h1v1h-1zM18 24h1v1h-1zM6 26h1v1h-1zM12 29h1v1h-1zM17 29h1v1h-1zM18 29h1v1h-1zM0 30h1v1h-1zM1 30h1v1h-1zM25 30h1v1h-1z"/></pattern></defs>
<rect width="1323" height="995" fill="#000"/>
<rect x="7.5" y="7.5" width="656" height="527" rx="34.4" fill="url(#pe)"/>
<rect x="8.5" y="8.5" width="654" height="525" rx="32.8" fill="url(#pf)"/>
<rect x="9.5" y="9.5" width="652" height="523" rx="31.1" fill="url(#pn)"/>
<rect x="14.5" y="14.5" width="642" height="513" rx="22.9" fill="url(#pm)"/>
<rect x="17.5" y="17.5" width="636" height="507" rx="17.9" fill="url(#pb)"/>
<rect x="24" y="24" width="624" height="495" rx="8" fill="#ffffff"/>
<rect x="666.5" y="32.5" width="648.5" height="502" rx="34.4" fill="url(#pe)"/>
<rect x="667.5" y="33.5" width="646.5" height="500" rx="32.8" fill="url(#pf)"/>
<rect x="668.5" y="34.5" width="644.5" height="498" rx="31.1" fill="url(#pn)"/>
<rect x="673.5" y="39.5" width="634.5" height="488" rx="22.9" fill="url(#pm)"/>
<rect x="676.5" y="42.5" width="628.5" height="482" rx="17.9" fill="url(#pb)"/>
<rect x="683" y="49" width="616.5" height="470" rx="8" fill="#ffffff"/>
<rect x="61.5" y="538.5" width="1198" height="448" rx="34.4" fill="url(#pe)"/>
<rect x="62.5" y="539.5" width="1196" height="446" rx="32.8" fill="url(#pf)"/>
<rect x="63.5" y="540.5" width="1194" height="444" rx="31.1" fill="url(#pn)"/>
<rect x="68.5" y="545.5" width="1184" height="434" rx="22.9" fill="url(#pm)"/>
<rect x="71.5" y="548.5" width="1178" height="428" rx="17.9" fill="url(#pb)"/>
<rect x="78" y="555" width="1166" height="416" rx="8" fill="#ffffff"/>
<text x="61" y="87.3" font-size="27.5" fill="#05453f" font-weight="normal" text-anchor="start" textLength="228" lengthAdjust="spacingAndGlyphs" stroke="#05453f" stroke-width="0.85">Cumulative revenue</text>
<text x="721" y="112.8" font-size="27.5" fill="#05453f" font-weight="normal" text-anchor="start" textLength="216" lengthAdjust="spacingAndGlyphs" stroke="#05453f" stroke-width="0.85">Cart abandonment</text>
<text x="115" y="618.2" font-size="27.5" fill="#05453f" font-weight="normal" text-anchor="start" textLength="172" lengthAdjust="spacingAndGlyphs" stroke="#05453f" stroke-width="0.85">Booking trends</text>
<text x="129.3" y="380.55" font-size="10" fill="#4f5878" font-weight="normal" text-anchor="end" textLength="37" lengthAdjust="spacingAndGlyphs" stroke="#4f5878" stroke-width="0.25">100,000</text>
<text x="129.3" y="295.3" font-size="10" fill="#4f5878" font-weight="normal" text-anchor="end" textLength="37" lengthAdjust="spacingAndGlyphs" stroke="#4f5878" stroke-width="0.25">200,000</text>
<text x="129.3" y="210.05" font-size="10" fill="#4f5878" font-weight="normal" text-anchor="end" textLength="37" lengthAdjust="spacingAndGlyphs" stroke="#4f5878" stroke-width="0.25">300,000</text>
<text x="129.3" y="124.8" font-size="10" fill="#4f5878" font-weight="normal" text-anchor="end" textLength="37" lengthAdjust="spacingAndGlyphs" stroke="#4f5878" stroke-width="0.25">400,000</text>
<text x="129.3" y="465.9" font-size="10" fill="#4f5878" font-weight="normal" text-anchor="end" stroke="#4f5878" stroke-width="0.25">0</text>
<line x1="137" y1="461.6" x2="585.5" y2="461.6" stroke="#e8e8e8" stroke-width="1"/>
<polygon points="139.8,439.4 145,432 153,425.6 162,419.5 174.5,409.3 180,402.4 189,392.7 195,385.4 201.7,377.5 209.7,365.7 216.5,356 221,347 227.8,339 234.6,330.3 242.5,318.5 250.5,306 256,296.3 260.7,290.2 267.5,279.1 274.3,273.5 278.8,269 283.4,262.8 288,258.7 292.4,250.8 297,242.9 305,230.4 314,218 318.5,213 323,211.1 323,461.5 139.8,461.5" fill="#c2e4de"/>
<polygon points="139.8,461.4 148.9,461.4 153,452.3 157.5,449 165.4,446.2 171,442.6 176.8,439.9 184.7,434.2 190.4,430.8 197.2,425.6 202.9,422.4 209.7,415.4 215.3,409.9 221,402.4 229,394.5 234.6,388.8 242.5,379.8 251.6,366.2 259.5,359.4 265.2,352.1 273.2,341.2 280,332.6 287.9,322 295.8,314 301.5,306.8 305,304.5 323,304.5 327.6,300.9 336.6,295.4 345.7,289.6 355.9,286.4 367.2,283.2 377.4,281.4 389.9,279.1 400.1,275.7 411.4,269.6 421.6,266.2 429.6,262.1 439.8,258.7 452.2,250.8 460.2,242.9 471.5,235.6 480.6,228.8 489.7,216.8 501,205.4 510,198 520.3,185 529.3,178.2 538.4,172.6 547.5,162.4 560,142 564.5,135.8 573.6,127.2 578.1,123.8 582.6,123.8 582.6,461.5 139.8,461.5" fill="#fce0da"/>
<polygon points="139.8,461.4 148.9,461.4 153,452.3 157.5,449 165.4,446.2 171,442.6 176.8,439.9 184.7,434.2 190.4,430.8 197.2,425.6 202.9,422.4 209.7,415.4 215.3,409.9 221,402.4 229,394.5 234.6,388.8 242.5,379.8 251.6,366.2 259.5,359.4 265.2,352.1 273.2,341.2 280,332.6 287.9,322 295.8,314 301.5,306.8 305,304.5 323,304.5 323,461.5 139.8,461.5" fill="#d3cfc5"/>
<line x1="138" y1="376.25" x2="585" y2="376.25" stroke="#7a8498" stroke-opacity="0.14" stroke-width="1" stroke-dasharray="3.5 5"/>
<line x1="138" y1="291.00" x2="585" y2="291.00" stroke="#7a8498" stroke-opacity="0.14" stroke-width="1" stroke-dasharray="3.5 5"/>
<line x1="138" y1="205.75" x2="585" y2="205.75" stroke="#7a8498" stroke-opacity="0.14" stroke-width="1" stroke-dasharray="3.5 5"/>
<line x1="138" y1="120.50" x2="585" y2="120.50" stroke="#7a8498" stroke-opacity="0.14" stroke-width="1" stroke-dasharray="3.5 5"/>
<polyline points="139.8,439.4 145,432 153,425.6 162,419.5 174.5,409.3 180,402.4 189,392.7 195,385.4 201.7,377.5 209.7,365.7 216.5,356 221,347 227.8,339 234.6,330.3 242.5,318.5 250.5,306 256,296.3 260.7,290.2 267.5,279.1 274.3,273.5 278.8,269 283.4,262.8 288,258.7 292.4,250.8 297,242.9 305,230.4 314,218 318.5,213 323,211.1" fill="none" stroke="#16a08f" stroke-width="1.8" stroke-linejoin="round"/>
<polyline points="139.8,461.4 148.9,461.4 153,452.3 157.5,449 165.4,446.2 171,442.6 176.8,439.9 184.7,434.2 190.4,430.8 197.2,425.6 202.9,422.4 209.7,415.4 215.3,409.9 221,402.4 229,394.5 234.6,388.8 242.5,379.8 251.6,366.2 259.5,359.4 265.2,352.1 273.2,341.2 280,332.6 287.9,322 295.8,314 301.5,306.8 305,304.5 323,304.5 327.6,300.9 336.6,295.4 345.7,289.6 355.9,286.4 367.2,283.2 377.4,281.4 389.9,279.1 400.1,275.7 411.4,269.6 421.6,266.2 429.6,262.1 439.8,258.7 452.2,250.8 460.2,242.9 471.5,235.6 480.6,228.8 489.7,216.8 501,205.4 510,198 520.3,185 529.3,178.2 538.4,172.6 547.5,162.4 560,142 564.5,135.8 573.6,127.2 578.1,123.8 582.6,123.8" fill="none" stroke="#f5967a" stroke-width="1.8" stroke-linejoin="round"/>
<text x="158.1" y="474.3" font-size="10" fill="#4f5878" font-weight="bold" text-anchor="start" textLength="53.3" lengthAdjust="spacingAndGlyphs">Aug 1, 2024</text>
<text x="297.4" y="474.3" font-size="10" fill="#4f5878" font-weight="bold" text-anchor="start" textLength="51.9" lengthAdjust="spacingAndGlyphs">Sep 1, 2024</text>
<text x="431.3" y="474.3" font-size="10" fill="#4f5878" font-weight="bold" text-anchor="start" textLength="52.3" lengthAdjust="spacingAndGlyphs">Oct 1, 2024</text>
<text x="0" y="0" font-size="10.5" fill="#4f5878" text-anchor="middle" textLength="63.3" lengthAdjust="spacingAndGlyphs" transform="translate(81.6,290.8) rotate(-90)">Gross revenue</text>
<path d="M842.13,462.87 A178,178 0 0 1 968.00,159.00 L968.00,205.00 A132,132 0 0 0 874.66,430.34 Z" fill="#52cdc0"/>
<path d="M968.00,159.00 A178,178 0 0 1 1112.01,232.37 L1074.79,259.41 A132,132 0 0 0 968.00,205.00 Z" fill="#00a393"/>
<path d="M1112.01,232.37 A178,178 0 0 1 1145.45,350.97 L1099.59,347.36 A132,132 0 0 0 1074.79,259.41 Z" fill="#f7cd4a"/>
<path d="M1145.45,350.97 A178,178 0 0 1 1093.87,462.87 L1061.34,430.34 A132,132 0 0 0 1099.59,347.36 Z" fill="#ec6b6e"/>
<polygon points="892.5,188.6 926,213.7 892.5,231.3" fill="#ffffff"/>
<polygon points="898,199 916.1,212.6 898,222.1" fill="#686e7d"/>
<text x="930.6" y="345.1" font-size="39" fill="#4a5578" font-weight="bold" text-anchor="start" textLength="74.8" lengthAdjust="spacingAndGlyphs">40%</text>
<text x="817.7" y="470.7" font-size="16" fill="#6e7287" font-weight="normal" text-anchor="start" textLength="20.6" lengthAdjust="spacingAndGlyphs">0%</text>
<text x="736.3" y="267.1" font-size="16" fill="#525c7b" font-weight="normal" text-anchor="start" textLength="62.1" lengthAdjust="spacingAndGlyphs">Excellent</text>
<text x="953.8" y="154.7" font-size="16" fill="#6e7287" font-weight="normal" text-anchor="start" textLength="29.5" lengthAdjust="spacingAndGlyphs">50%</text>
<text x="1051.8" y="174.0" font-size="16" fill="#525c7b" font-weight="normal" text-anchor="start" textLength="37.2" lengthAdjust="spacingAndGlyphs">Good</text>
<text x="1116.8" y="229.8" font-size="16" fill="#6e7287" font-weight="normal" text-anchor="start" textLength="30.1" lengthAdjust="spacingAndGlyphs">70%</text>
<text x="1145.9" y="287.7" font-size="16" fill="#525c7b" font-weight="normal" text-anchor="start" textLength="114.4" lengthAdjust="spacingAndGlyphs">Industry average</text>
<text x="1151.9" y="355.8" font-size="16" fill="#6e7287" font-weight="normal" text-anchor="start" textLength="29.5" lengthAdjust="spacingAndGlyphs">85%</text>
<text x="1135.7" y="418.0" font-size="16" fill="#525c7b" font-weight="normal" text-anchor="start" textLength="32.1" lengthAdjust="spacingAndGlyphs">Poor</text>
<text x="1099.6" y="470.7" font-size="16" fill="#6e7287" font-weight="normal" text-anchor="start" textLength="37.9" lengthAdjust="spacingAndGlyphs">100%</text>
<text x="125.6" y="665.8" font-size="11" fill="#6d7289" font-weight="bold" text-anchor="start" textLength="54.4" lengthAdjust="spacingAndGlyphs">timeOfDay</text>
<polyline points="185.3,662.8 188.0,659.9 190.7,662.8" fill="none" stroke="#a9adb9" stroke-width="0.9"/>
<text x="433.0" y="665.8" font-size="11" fill="#6d7289" font-weight="bold" text-anchor="end" textLength="18.1" lengthAdjust="spacingAndGlyphs">Sun</text>
<polyline points="404.3,662.8 407.0,659.9 409.7,662.8" fill="none" stroke="#a9adb9" stroke-width="0.9"/>
<text x="569.0" y="665.8" font-size="11" fill="#6d7289" font-weight="bold" text-anchor="end" textLength="22.4" lengthAdjust="spacingAndGlyphs">Mon</text>
<polyline points="536.0,662.8 538.7,659.9 541.4,662.8" fill="none" stroke="#a9adb9" stroke-width="0.9"/>
<text x="694.5" y="665.8" font-size="11" fill="#6d7289" font-weight="bold" text-anchor="end" textLength="16.8" lengthAdjust="spacingAndGlyphs">Tue</text>
<polyline points="667.1,662.8 669.8,659.9 672.5,662.8" fill="none" stroke="#a9adb9" stroke-width="0.9"/>
<text x="832.4000000000001" y="665.8" font-size="11" fill="#6d7289" font-weight="bold" text-anchor="end" textLength="22.6" lengthAdjust="spacingAndGlyphs">Wed</text>
<polyline points="799.2,662.8 801.9,659.9 804.6,662.8" fill="none" stroke="#a9adb9" stroke-width="0.9"/>
<text x="960.5" y="665.8" font-size="11" fill="#6d7289" font-weight="bold" text-anchor="end" textLength="18.6" lengthAdjust="spacingAndGlyphs">Thu</text>
<polyline points="931.3,662.8 934.0,659.9 936.7,662.8" fill="none" stroke="#a9adb9" stroke-width="0.9"/>
<text x="1075.6000000000001" y="665.8" font-size="11" fill="#6d7289" font-weight="bold" text-anchor="end" textLength="12.8" lengthAdjust="spacingAndGlyphs">Fri</text>
<polyline points="1052.2,662.8 1054.9,659.9 1057.6,662.8" fill="none" stroke="#a9adb9" stroke-width="0.9"/>
<text x="1196.0" y="665.8" font-size="11" fill="#6d7289" font-weight="bold" text-anchor="end" textLength="15.5" lengthAdjust="spacingAndGlyphs">Sat</text>
<polyline points="1169.9,662.8 1172.6,659.9 1175.3,662.8" fill="none" stroke="#a9adb9" stroke-width="0.9"/>
<rect x="317" y="678" width="127" height="34" fill="#fdfefe" shape-rendering="crispEdges"/>
<rect x="444" y="678" width="136" height="34" fill="#fefffe" shape-rendering="crispEdges"/>
<rect x="580" y="678" width="126" height="34" fill="#fcfefe" shape-rendering="crispEdges"/>
<rect x="706" y="678" width="138" height="34" fill="#fdfefe" shape-rendering="crispEdges"/>
<rect x="844" y="678" width="128" height="34" fill="#ffffff" shape-rendering="crispEdges"/>
<rect x="972" y="678" width="115" height="34" fill="#fbfefd" shape-rendering="crispEdges"/>
<rect x="1087" y="678" width="120" height="34" fill="#fafdfd" shape-rendering="crispEdges"/>
<text x="125.4" y="699.125" font-size="11" fill="#4d5776" font-weight="bold" text-anchor="start" textLength="142.3" lengthAdjust="spacingAndGlyphs">Early morning (12AM - 6AM)</text>
<text x="433.0" y="699.125" font-size="11" fill="#4d5776" font-weight="bold" text-anchor="end">6</text>
<text x="569.0" y="699.125" font-size="11" fill="#4d5776" font-weight="bold" text-anchor="end">4</text>
<text x="694.5" y="699.125" font-size="11" fill="#4d5776" font-weight="bold" text-anchor="end">7</text>
<text x="832.4000000000001" y="699.125" font-size="11" fill="#4d5776" font-weight="bold" text-anchor="end">5</text>
<text x="960.5" y="699.125" font-size="11" fill="#4d5776" font-weight="bold" text-anchor="end">2</text>
<text x="1075.6000000000001" y="699.125" font-size="11" fill="#4d5776" font-weight="bold" text-anchor="end">8</text>
<text x="1196.0" y="699.125" font-size="11" fill="#4d5776" font-weight="bold" text-anchor="end">11</text>
<rect x="317" y="712" width="127" height="33" fill="#c8ebe7" shape-rendering="crispEdges"/>
<rect x="444" y="712" width="136" height="33" fill="#ccece8" shape-rendering="crispEdges"/>
<rect x="580" y="712" width="126" height="33" fill="#d7efec" shape-rendering="crispEdges"/>
<rect x="706" y="712" width="138" height="33" fill="#b5e2dc" shape-rendering="crispEdges"/>
<rect x="844" y="712" width="128" height="33" fill="#d1edea" shape-rendering="crispEdges"/>
<rect x="972" y="712" width="115" height="33" fill="#b7e3dd" shape-rendering="crispEdges"/>
<rect x="1087" y="712" width="120" height="33" fill="#bee7e1" shape-rendering="crispEdges"/>
<text x="125.4" y="732.375" font-size="11" fill="#4d5776" font-weight="bold" text-anchor="start" textLength="109.1" lengthAdjust="spacingAndGlyphs">Morning (6AM - 9AM)</text>
<text x="433.0" y="732.375" font-size="11" fill="#4d5776" font-weight="bold" text-anchor="end">91</text>
<text x="569.0" y="732.375" font-size="11" fill="#4d5776" font-weight="bold" text-anchor="end">85</text>
<text x="694.5" y="732.375" font-size="11" fill="#4d5776" font-weight="bold" text-anchor="end">69</text>
<text x="832.4000000000001" y="732.375" font-size="11" fill="#4d5776" font-weight="bold" text-anchor="end">124</text>
<text x="960.5" y="732.375" font-size="11" fill="#4d5776" font-weight="bold" text-anchor="end">78</text>
<text x="1075.6000000000001" y="732.375" font-size="11" fill="#4d5776" font-weight="bold" text-anchor="end">121</text>
<text x="1196.0" y="732.375" font-size="11" fill="#4d5776" font-weight="bold" text-anchor="end">109</text>
<rect x="317" y="745" width="127" height="33" fill="#5fbaae" shape-rendering="crispEdges"/>
<rect x="444" y="745" width="136" height="33" fill="#79c9bf" shape-rendering="crispEdges"/>
<rect x="580" y="745" width="126" height="33" fill="#80ccc3" shape-rendering="crispEdges"/>
<rect x="706" y="745" width="138" height="33" fill="#6dc6bb" shape-rendering="crispEdges"/>
<rect x="844" y="745" width="128" height="33" fill="#7dcbc1" shape-rendering="crispEdges"/>
<rect x="972" y="745" width="115" height="33" fill="#62bbb0" shape-rendering="crispEdges"/>
<rect x="1087" y="745" width="120" height="33" fill="#60baaf" shape-rendering="crispEdges"/>
<text x="125.4" y="765.625" font-size="11" fill="#4d5776" font-weight="bold" text-anchor="start" textLength="137.6" lengthAdjust="spacingAndGlyphs">Late morning (9AM - 12PM)</text>
<text x="433.0" y="765.625" font-size="11" fill="#4d5776" font-weight="bold" text-anchor="end">317</text>
<text x="569.0" y="765.625" font-size="11" fill="#4d5776" font-weight="bold" text-anchor="end">238</text>
<text x="694.5" y="765.625" font-size="11" fill="#4d5776" font-weight="bold" text-anchor="end">222</text>
<text x="832.4000000000001" y="765.625" font-size="11" fill="#4d5776" font-weight="bold" text-anchor="end">255</text>
<text x="960.5" y="765.625" font-size="11" fill="#4d5776" font-weight="bold" text-anchor="end">229</text>
<text x="1075.6000000000001" y="765.625" font-size="11" fill="#4d5776" font-weight="bold" text-anchor="end">306</text>
<text x="1196.0" y="765.625" font-size="11" fill="#4d5776" font-weight="bold" text-anchor="end">312</text>
<rect x="317" y="778" width="127" height="34" fill="#c3e8e3" shape-rendering="crispEdges"/>
<rect x="444" y="778" width="136" height="34" fill="#c3e8e3" shape-rendering="crispEdges"/>
<rect x="580" y="778" width="126" height="34" fill="#c8ebe7" shape-rendering="crispEdges"/>
<rect x="706" y="778" width="138" height="34" fill="#d4eeeb" shape-rendering="crispEdges"/>
<rect x="844" y="778" width="128" height="34" fill="#bde6e0" shape-rendering="crispEdges"/>
<rect x="972" y="778" width="115" height="34" fill="#bee7e1" shape-rendering="crispEdges"/>
<rect x="1087" y="778" width="120" height="34" fill="#a8ddd6" shape-rendering="crispEdges"/>
<text x="125.4" y="798.875" font-size="11" fill="#4d5776" font-weight="bold" text-anchor="start" textLength="122.5" lengthAdjust="spacingAndGlyphs">Afternoon (12PM - 3PM)</text>
<text x="433.0" y="798.875" font-size="11" fill="#4d5776" font-weight="bold" text-anchor="end">101</text>
<text x="569.0" y="798.875" font-size="11" fill="#4d5776" font-weight="bold" text-anchor="end">101</text>
<text x="694.5" y="798.875" font-size="11" fill="#4d5776" font-weight="bold" text-anchor="end">92</text>
<text x="832.4000000000001" y="798.875" font-size="11" fill="#4d5776" font-weight="bold" text-anchor="end">73</text>
<text x="960.5" y="798.875" font-size="11" fill="#4d5776" font-weight="bold" text-anchor="end">111</text>
<text x="1075.6000000000001" y="798.875" font-size="11" fill="#4d5776" font-weight="bold" text-anchor="end">109</text>
<text x="1196.0" y="798.875" font-size="11" fill="#4d5776" font-weight="bold" text-anchor="end">142</text>
<rect x="317" y="812" width="127" height="33" fill="#e0f3f1" shape-rendering="crispEdges"/>
<rect x="444" y="812" width="136" height="33" fill="#d7efec" shape-rendering="crispEdges"/>
<rect x="580" y="812" width="126" height="33" fill="#d5efec" shape-rendering="crispEdges"/>
<rect x="706" y="812" width="138" height="33" fill="#daf0ee" shape-rendering="crispEdges"/>
<rect x="844" y="812" width="128" height="33" fill="#daf1ee" shape-rendering="crispEdges"/>
<rect x="972" y="812" width="115" height="33" fill="#d5efec" shape-rendering="crispEdges"/>
<rect x="1087" y="812" width="120" height="33" fill="#dbf1ef" shape-rendering="crispEdges"/>
<text x="125.4" y="832.125" font-size="11" fill="#4d5776" font-weight="bold" text-anchor="start" textLength="137.9" lengthAdjust="spacingAndGlyphs">Late afternoon (3PM - 6PM)</text>
<text x="433.0" y="832.125" font-size="11" fill="#4d5776" font-weight="bold" text-anchor="end">53</text>
<text x="569.0" y="832.125" font-size="11" fill="#4d5776" font-weight="bold" text-anchor="end">69</text>
<text x="694.5" y="832.125" font-size="11" fill="#4d5776" font-weight="bold" text-anchor="end">72</text>
<text x="832.4000000000001" y="832.125" font-size="11" fill="#4d5776" font-weight="bold" text-anchor="end">64</text>
<text x="960.5" y="832.125" font-size="11" fill="#4d5776" font-weight="bold" text-anchor="end">63</text>
<text x="1075.6000000000001" y="832.125" font-size="11" fill="#4d5776" font-weight="bold" text-anchor="end">72</text>
<text x="1196.0" y="832.125" font-size="11" fill="#4d5776" font-weight="bold" text-anchor="end">61</text>
<rect x="317" y="845" width="127" height="33" fill="#c1e8e2" shape-rendering="crispEdges"/>
<rect x="444" y="845" width="136" height="33" fill="#afe0d9" shape-rendering="crispEdges"/>
<rect x="580" y="845" width="126" height="33" fill="#b6e3dd" shape-rendering="crispEdges"/>
<rect x="706" y="845" width="138" height="33" fill="#bce6e0" shape-rendering="crispEdges"/>
<rect x="844" y="845" width="128" height="33" fill="#a2dbd3" shape-rendering="crispEdges"/>
<rect x="972" y="845" width="115" height="33" fill="#a9ded7" shape-rendering="crispEdges"/>
<rect x="1087" y="845" width="120" height="33" fill="#b9e4de" shape-rendering="crispEdges"/>
<text x="125.4" y="865.375" font-size="11" fill="#4d5776" font-weight="bold" text-anchor="start" textLength="103.8" lengthAdjust="spacingAndGlyphs">Evening (6PM - 9PM)</text>
<text x="433.0" y="865.375" font-size="11" fill="#4d5776" font-weight="bold" text-anchor="end">104</text>
<text x="569.0" y="865.375" font-size="11" fill="#4d5776" font-weight="bold" text-anchor="end">132</text>
<text x="694.5" y="865.375" font-size="11" fill="#4d5776" font-weight="bold" text-anchor="end">122</text>
<text x="832.4000000000001" y="865.375" font-size="11" fill="#4d5776" font-weight="bold" text-anchor="end">112</text>
<text x="960.5" y="865.375" font-size="11" fill="#4d5776" font-weight="bold" text-anchor="end">154</text>
<text x="1075.6000000000001" y="865.375" font-size="11" fill="#4d5776" font-weight="bold" text-anchor="end">140</text>
<text x="1196.0" y="865.375" font-size="11" fill="#4d5776" font-weight="bold" text-anchor="end">117</text>
<rect x="317" y="878" width="127" height="33" fill="#d7efec" shape-rendering="crispEdges"/>
<rect x="444" y="878" width="136" height="33" fill="#d0edea" shape-rendering="crispEdges"/>
<rect x="580" y="878" width="126" height="33" fill="#bfe7e1" shape-rendering="crispEdges"/>
<rect x="706" y="878" width="138" height="33" fill="#c7eae6" shape-rendering="crispEdges"/>
<rect x="844" y="878" width="128" height="33" fill="#b4e2dc" shape-rendering="crispEdges"/>
<rect x="972" y="878" width="115" height="33" fill="#bce6e0" shape-rendering="crispEdges"/>
<rect x="1087" y="878" width="120" height="33" fill="#dbf1ee" shape-rendering="crispEdges"/>
<text x="125.4" y="898.625" font-size="11" fill="#4d5776" font-weight="bold" text-anchor="start" textLength="99.5" lengthAdjust="spacingAndGlyphs">Night (9PM - 12AM)</text>
<text x="433.0" y="898.625" font-size="11" fill="#4d5776" font-weight="bold" text-anchor="end">69</text>
<text x="569.0" y="898.625" font-size="11" fill="#4d5776" font-weight="bold" text-anchor="end">79</text>
<text x="694.5" y="898.625" font-size="11" fill="#4d5776" font-weight="bold" text-anchor="end">108</text>
<text x="832.4000000000001" y="898.625" font-size="11" fill="#4d5776" font-weight="bold" text-anchor="end">93</text>
<text x="960.5" y="898.625" font-size="11" fill="#4d5776" font-weight="bold" text-anchor="end">125</text>
<text x="1075.6000000000001" y="898.625" font-size="11" fill="#4d5776" font-weight="bold" text-anchor="end">113</text>
<text x="1196.0" y="898.625" font-size="11" fill="#4d5776" font-weight="bold" text-anchor="end">62</text>
<line x1="114" y1="678.50" x2="297" y2="678.50" stroke="#f4f5f7" stroke-width="1"/>
<line x1="309" y1="678.50" x2="317.4" y2="678.50" stroke="#f4f5f7" stroke-width="1"/>
<line x1="114" y1="711.75" x2="297" y2="711.75" stroke="#f4f5f7" stroke-width="1"/>
<line x1="309" y1="711.75" x2="317.4" y2="711.75" stroke="#f4f5f7" stroke-width="1"/>
<line x1="114" y1="745.00" x2="297" y2="745.00" stroke="#f4f5f7" stroke-width="1"/>
<line x1="309" y1="745.00" x2="317.4" y2="745.00" stroke="#f4f5f7" stroke-width="1"/>
<line x1="114" y1="778.25" x2="297" y2="778.25" stroke="#f4f5f7" stroke-width="1"/>
<line x1="309" y1="778.25" x2="317.4" y2="778.25" stroke="#f4f5f7" stroke-width="1"/>
<line x1="114" y1="811.50" x2="297" y2="811.50" stroke="#f4f5f7" stroke-width="1"/>
<line x1="309" y1="811.50" x2="317.4" y2="811.50" stroke="#f4f5f7" stroke-width="1"/>
<line x1="114" y1="844.75" x2="297" y2="844.75" stroke="#f4f5f7" stroke-width="1"/>
<line x1="309" y1="844.75" x2="317.4" y2="844.75" stroke="#f4f5f7" stroke-width="1"/>
<line x1="114" y1="878.00" x2="297" y2="878.00" stroke="#f4f5f7" stroke-width="1"/>
<line x1="309" y1="878.00" x2="317.4" y2="878.00" stroke="#f4f5f7" stroke-width="1"/>
<line x1="114" y1="911.25" x2="297" y2="911.25" stroke="#f4f5f7" stroke-width="1"/>
<line x1="309" y1="911.25" x2="317.4" y2="911.25" stroke="#f4f5f7" stroke-width="1"/>
<line x1="317.4" y1="678.50" x2="1207.3" y2="678.50" stroke="#f5f6f8" stroke-width="1"/>
</svg>
</body></html>
